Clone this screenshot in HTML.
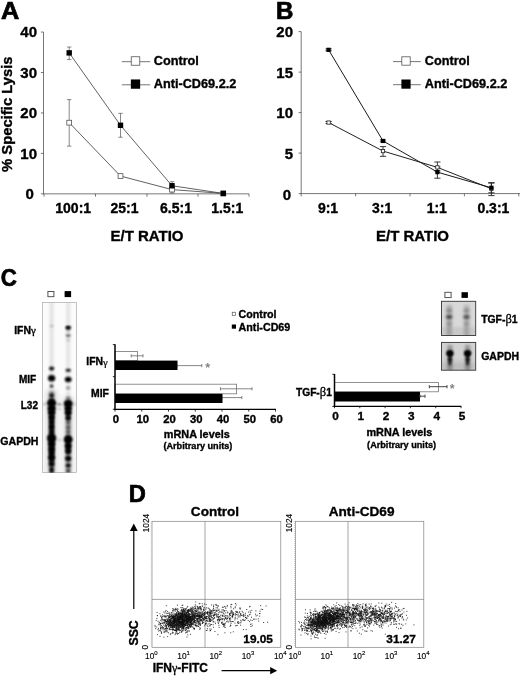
<!DOCTYPE html><html><head><meta charset="utf-8"><title>Figure</title>
<style>html,body{margin:0;padding:0;background:#fff}svg{display:block}text{font-family:"Liberation Sans", Arial, Helvetica, sans-serif;font-weight:bold;fill:#000;stroke:#000;stroke-width:0.35px}.r{font-weight:normal;stroke:none}.pl{stroke-width:0.7px}</style></head><body>
<svg width="520" height="677" viewBox="0 0 520 677">
<defs>
<filter id="b1" x="-50%" y="-50%" width="200%" height="200%"><feGaussianBlur stdDeviation="0.9"/></filter>
<filter id="b2" x="-50%" y="-50%" width="200%" height="200%"><feGaussianBlur stdDeviation="1.6"/></filter>
<filter id="b3" x="-50%" y="-50%" width="200%" height="200%"><feGaussianBlur stdDeviation="2.5"/></filter>
<clipPath id="cg"><rect x="42.5" y="302.5" width="34" height="170"/></clipPath>
<clipPath id="cb1"><rect x="441.5" y="301.3" width="34.2" height="34.2"/></clipPath>
<clipPath id="cb2"><rect x="441.5" y="342.4" width="34.2" height="27.8"/></clipPath>
</defs>
<rect width="520" height="677" fill="#fff"/>
<text class="pl" transform="translate(0.9,18.8) scale(1.09,1)" font-size="23.2">A</text>
<line x1="43.50" y1="32.05" x2="43.50" y2="194.15" stroke="#4a4a4a" stroke-width="0.75"/>
<line x1="43.50" y1="193.85" x2="249.00" y2="193.85" stroke="#4a4a4a" stroke-width="0.75"/>
<line x1="40.90" y1="193.85" x2="43.50" y2="193.85" stroke="#4a4a4a" stroke-width="0.75"/>
<text x="33.80" y="199.25" font-size="15" text-anchor="end" >0</text>
<line x1="40.90" y1="153.40" x2="43.50" y2="153.40" stroke="#4a4a4a" stroke-width="0.75"/>
<text x="37.00" y="158.80" font-size="15" text-anchor="end" >10</text>
<line x1="40.90" y1="112.95" x2="43.50" y2="112.95" stroke="#4a4a4a" stroke-width="0.75"/>
<text x="37.00" y="118.35" font-size="15" text-anchor="end" >20</text>
<line x1="40.90" y1="72.50" x2="43.50" y2="72.50" stroke="#4a4a4a" stroke-width="0.75"/>
<text x="37.00" y="77.90" font-size="15" text-anchor="end" >30</text>
<line x1="40.90" y1="32.05" x2="43.50" y2="32.05" stroke="#4a4a4a" stroke-width="0.75"/>
<text x="37.00" y="37.45" font-size="15" text-anchor="end" >40</text>
<line x1="44.00" y1="193.85" x2="44.00" y2="196.65" stroke="#4a4a4a" stroke-width="0.75"/>
<line x1="95.50" y1="193.85" x2="95.50" y2="196.65" stroke="#4a4a4a" stroke-width="0.75"/>
<line x1="147.00" y1="193.85" x2="147.00" y2="196.65" stroke="#4a4a4a" stroke-width="0.75"/>
<line x1="198.00" y1="193.85" x2="198.00" y2="196.65" stroke="#4a4a4a" stroke-width="0.75"/>
<line x1="249.00" y1="193.85" x2="249.00" y2="196.65" stroke="#4a4a4a" stroke-width="0.75"/>
<text x="73.20" y="213.00" font-size="14" text-anchor="middle" >100:1</text>
<text x="124.50" y="213.00" font-size="14" text-anchor="middle" >25:1</text>
<text x="176.00" y="213.00" font-size="14" text-anchor="middle" >6.5:1</text>
<text x="227.30" y="213.00" font-size="14" text-anchor="middle" >1.5:1</text>
<text x="147.00" y="240.80" font-size="15" text-anchor="middle" >E/T RATIO</text>
<text transform="translate(11.6,114.2) rotate(-90)" font-size="14.8" text-anchor="middle">% Specific Lysis</text>
<line x1="69.20" y1="122.66" x2="120.50" y2="176.05" stroke="#3a3a3a" stroke-width="0.8"/>
<line x1="69.20" y1="52.88" x2="120.50" y2="125.29" stroke="#3a3a3a" stroke-width="0.8"/>
<line x1="120.50" y1="176.05" x2="172.00" y2="189.60" stroke="#3a3a3a" stroke-width="0.8"/>
<line x1="120.50" y1="125.29" x2="172.00" y2="185.76" stroke="#3a3a3a" stroke-width="0.8"/>
<line x1="172.00" y1="189.60" x2="223.30" y2="193.45" stroke="#3a3a3a" stroke-width="0.8"/>
<line x1="172.00" y1="185.76" x2="223.30" y2="193.45" stroke="#3a3a3a" stroke-width="0.8"/>
<line x1="69.20" y1="99.60" x2="69.20" y2="146.12" stroke="#555" stroke-width="0.7"/>
<line x1="67.00" y1="99.60" x2="71.40" y2="99.60" stroke="#555" stroke-width="0.7"/>
<line x1="67.00" y1="146.12" x2="71.40" y2="146.12" stroke="#555" stroke-width="0.7"/>
<line x1="69.20" y1="47.02" x2="69.20" y2="59.56" stroke="#555" stroke-width="0.7"/>
<line x1="67.00" y1="47.02" x2="71.40" y2="47.02" stroke="#555" stroke-width="0.7"/>
<line x1="67.00" y1="59.56" x2="71.40" y2="59.56" stroke="#555" stroke-width="0.7"/>
<line x1="120.50" y1="113.35" x2="120.50" y2="137.22" stroke="#555" stroke-width="0.7"/>
<line x1="118.30" y1="113.35" x2="122.70" y2="113.35" stroke="#555" stroke-width="0.7"/>
<line x1="118.30" y1="137.22" x2="122.70" y2="137.22" stroke="#555" stroke-width="0.7"/>
<line x1="172.00" y1="185.76" x2="172.00" y2="193.04" stroke="#555" stroke-width="0.7"/>
<line x1="169.80" y1="185.76" x2="174.20" y2="185.76" stroke="#555" stroke-width="0.7"/>
<line x1="169.80" y1="193.04" x2="174.20" y2="193.04" stroke="#555" stroke-width="0.7"/>
<line x1="172.00" y1="181.72" x2="172.00" y2="189.00" stroke="#555" stroke-width="0.7"/>
<line x1="169.80" y1="181.72" x2="174.20" y2="181.72" stroke="#555" stroke-width="0.7"/>
<line x1="169.80" y1="189.00" x2="174.20" y2="189.00" stroke="#555" stroke-width="0.7"/>
<rect x="66.80" y="120.26" width="4.80" height="4.80" fill="#fff" stroke="#555" stroke-width="0.8"/>
<rect x="66.50" y="50.18" width="5.40" height="5.40" fill="#000"/>
<rect x="118.10" y="173.65" width="4.80" height="4.80" fill="#fff" stroke="#555" stroke-width="0.8"/>
<rect x="117.80" y="122.59" width="5.40" height="5.40" fill="#000"/>
<rect x="169.60" y="187.20" width="4.80" height="4.80" fill="#fff" stroke="#555" stroke-width="0.8"/>
<rect x="169.30" y="183.06" width="5.40" height="5.40" fill="#000"/>
<rect x="220.90" y="191.05" width="4.80" height="4.80" fill="#fff" stroke="#555" stroke-width="0.8"/>
<rect x="220.60" y="190.75" width="5.40" height="5.40" fill="#000"/>
<line x1="121.80" y1="61.70" x2="150.20" y2="61.70" stroke="#666" stroke-width="0.9"/>
<rect x="131.25" y="56.75" width="8.50" height="8.50" fill="#fff" stroke="#555" stroke-width="0.8"/>
<text x="153.80" y="64.50" font-size="12.7" text-anchor="start" >Control</text>
<line x1="121.80" y1="84.80" x2="150.20" y2="84.80" stroke="#666" stroke-width="0.9"/>
<rect x="130.85" y="79.45" width="9.30" height="9.30" fill="#000"/>
<text x="153.80" y="87.60" font-size="12.7" text-anchor="start" >Anti-CD69.2.2</text>
<text class="pl" transform="translate(276.0,18.8) scale(1.04,1)" font-size="23.2">B</text>
<line x1="301.20" y1="31.60" x2="301.20" y2="193.90" stroke="#4a4a4a" stroke-width="0.75"/>
<line x1="301.20" y1="193.60" x2="520.00" y2="193.60" stroke="#4a4a4a" stroke-width="0.75"/>
<line x1="298.60" y1="193.60" x2="301.20" y2="193.60" stroke="#4a4a4a" stroke-width="0.75"/>
<text x="291.20" y="200.20" font-size="15" text-anchor="end" >0</text>
<line x1="298.60" y1="153.10" x2="301.20" y2="153.10" stroke="#4a4a4a" stroke-width="0.75"/>
<text x="293.00" y="158.50" font-size="15" text-anchor="end" >5</text>
<line x1="298.60" y1="112.60" x2="301.20" y2="112.60" stroke="#4a4a4a" stroke-width="0.75"/>
<text x="293.00" y="118.00" font-size="15" text-anchor="end" >10</text>
<line x1="298.60" y1="72.10" x2="301.20" y2="72.10" stroke="#4a4a4a" stroke-width="0.75"/>
<text x="293.00" y="77.50" font-size="15" text-anchor="end" >15</text>
<line x1="298.60" y1="31.60" x2="301.20" y2="31.60" stroke="#4a4a4a" stroke-width="0.75"/>
<text x="293.00" y="37.00" font-size="15" text-anchor="end" >20</text>
<line x1="301.20" y1="193.60" x2="301.20" y2="196.40" stroke="#4a4a4a" stroke-width="0.75"/>
<line x1="355.60" y1="193.60" x2="355.60" y2="196.40" stroke="#4a4a4a" stroke-width="0.75"/>
<line x1="410.00" y1="193.60" x2="410.00" y2="196.40" stroke="#4a4a4a" stroke-width="0.75"/>
<line x1="464.40" y1="193.60" x2="464.40" y2="196.40" stroke="#4a4a4a" stroke-width="0.75"/>
<line x1="518.80" y1="193.60" x2="518.80" y2="196.40" stroke="#4a4a4a" stroke-width="0.75"/>
<text x="328.00" y="213.00" font-size="14" text-anchor="middle" >9:1</text>
<text x="382.20" y="213.00" font-size="14" text-anchor="middle" >3:1</text>
<text x="436.80" y="213.00" font-size="14" text-anchor="middle" >1:1</text>
<text x="493.40" y="213.00" font-size="14" text-anchor="middle" >0.3:1</text>
<text x="412.50" y="240.80" font-size="15" text-anchor="middle" >E/T RATIO</text>
<line x1="328.60" y1="122.56" x2="383.00" y2="151.07" stroke="#222" stroke-width="1.0"/>
<line x1="328.60" y1="49.82" x2="383.00" y2="140.95" stroke="#1a1a1a" stroke-width="1.0"/>
<line x1="383.00" y1="151.07" x2="437.40" y2="167.36" stroke="#222" stroke-width="1.0"/>
<line x1="383.00" y1="140.95" x2="437.40" y2="172.13" stroke="#1a1a1a" stroke-width="1.0"/>
<line x1="437.40" y1="167.36" x2="491.40" y2="188.74" stroke="#222" stroke-width="1.0"/>
<line x1="437.40" y1="172.13" x2="491.40" y2="187.77" stroke="#1a1a1a" stroke-width="1.0"/>
<line x1="328.60" y1="121.51" x2="328.60" y2="123.53" stroke="#222" stroke-width="0.9"/>
<line x1="325.50" y1="121.51" x2="331.70" y2="121.51" stroke="#222" stroke-width="0.9"/>
<line x1="325.50" y1="123.53" x2="331.70" y2="123.53" stroke="#222" stroke-width="0.9"/>
<line x1="328.60" y1="48.85" x2="328.60" y2="50.80" stroke="#222" stroke-width="0.9"/>
<line x1="325.50" y1="48.85" x2="331.70" y2="48.85" stroke="#222" stroke-width="0.9"/>
<line x1="325.50" y1="50.80" x2="331.70" y2="50.80" stroke="#222" stroke-width="0.9"/>
<line x1="383.00" y1="146.62" x2="383.00" y2="156.34" stroke="#222" stroke-width="0.9"/>
<line x1="379.90" y1="146.62" x2="386.10" y2="146.62" stroke="#222" stroke-width="0.9"/>
<line x1="379.90" y1="156.34" x2="386.10" y2="156.34" stroke="#222" stroke-width="0.9"/>
<line x1="383.00" y1="139.98" x2="383.00" y2="141.92" stroke="#222" stroke-width="0.9"/>
<line x1="379.90" y1="139.98" x2="386.10" y2="139.98" stroke="#222" stroke-width="0.9"/>
<line x1="379.90" y1="141.92" x2="386.10" y2="141.92" stroke="#222" stroke-width="0.9"/>
<line x1="437.40" y1="162.01" x2="437.40" y2="170.92" stroke="#222" stroke-width="0.9"/>
<line x1="434.30" y1="162.01" x2="440.50" y2="162.01" stroke="#222" stroke-width="0.9"/>
<line x1="434.30" y1="170.92" x2="440.50" y2="170.92" stroke="#222" stroke-width="0.9"/>
<line x1="437.40" y1="166.87" x2="437.40" y2="178.21" stroke="#222" stroke-width="0.9"/>
<line x1="434.30" y1="166.87" x2="440.50" y2="166.87" stroke="#222" stroke-width="0.9"/>
<line x1="434.30" y1="178.21" x2="440.50" y2="178.21" stroke="#222" stroke-width="0.9"/>
<line x1="491.40" y1="183.07" x2="491.40" y2="195.62" stroke="#222" stroke-width="0.9"/>
<line x1="488.30" y1="183.07" x2="494.50" y2="183.07" stroke="#222" stroke-width="0.9"/>
<line x1="488.30" y1="195.62" x2="494.50" y2="195.62" stroke="#222" stroke-width="0.9"/>
<line x1="491.40" y1="182.66" x2="491.40" y2="192.79" stroke="#222" stroke-width="0.9"/>
<line x1="488.30" y1="182.66" x2="494.50" y2="182.66" stroke="#222" stroke-width="0.9"/>
<line x1="488.30" y1="192.79" x2="494.50" y2="192.79" stroke="#222" stroke-width="0.9"/>
<rect x="326.95" y="120.91" width="3.3" height="3.3" fill="#fff" stroke="#222" stroke-width="0.8"/>
<rect x="326.50" y="47.72" width="4.20" height="4.20" fill="#000"/>
<rect x="381.35" y="149.42" width="3.3" height="3.3" fill="#fff" stroke="#222" stroke-width="0.8"/>
<rect x="380.90" y="138.85" width="4.20" height="4.20" fill="#000"/>
<rect x="435.75" y="165.71" width="3.3" height="3.3" fill="#fff" stroke="#222" stroke-width="0.8"/>
<rect x="435.30" y="170.03" width="4.20" height="4.20" fill="#000"/>
<rect x="489.75" y="187.09" width="3.3" height="3.3" fill="#fff" stroke="#222" stroke-width="0.8"/>
<rect x="489.30" y="185.67" width="4.20" height="4.20" fill="#000"/>
<line x1="393.00" y1="61.60" x2="420.80" y2="61.60" stroke="#666" stroke-width="0.9"/>
<rect x="401.80" y="56.80" width="8.40" height="8.40" fill="#fff" stroke="#555" stroke-width="0.8"/>
<text x="424.80" y="64.50" font-size="12.7" text-anchor="start" >Control</text>
<line x1="393.00" y1="84.70" x2="420.80" y2="84.70" stroke="#666" stroke-width="0.9"/>
<rect x="401.40" y="79.50" width="9.20" height="9.20" fill="#000"/>
<text x="424.80" y="87.60" font-size="12.7" text-anchor="start" >Anti-CD69.2.2</text>
<text class="pl" transform="translate(0.7,286) scale(0.95,1)" font-size="23.5">C</text>
<rect x="42.5" y="302.5" width="34" height="170" fill="#fbfbfb" stroke="#aaa" stroke-width="0.7"/>
<rect x="47.9" y="291.5" width="6.0" height="5.2" fill="#fff" stroke="#444" stroke-width="0.9"/>
<rect x="64.6" y="291.1" width="6.5" height="6.0" fill="#000"/>
<g clip-path="url(#cg)">
<rect x="49.8" y="302" width="3.6" height="171" fill="#000" opacity="0.11" filter="url(#b2)"/>
<rect x="66.4" y="302" width="3.6" height="171" fill="#000" opacity="0.10" filter="url(#b2)"/>
<rect x="49.4" y="392" width="4.5" height="82" fill="#000" opacity="0.55" filter="url(#b2)"/>
<rect x="66.0" y="398" width="4.5" height="76" fill="#000" opacity="0.42" filter="url(#b2)"/>
<rect x="49.3" y="399" width="4.6" height="64" fill="#000" opacity="0.85" filter="url(#b1)"/>
<rect x="66.2" y="401" width="4.0" height="19" fill="#000" opacity="0.8" filter="url(#b1)"/>
<rect x="66.2" y="436" width="4.0" height="18" fill="#000" opacity="0.85" filter="url(#b1)"/>
<rect x="45.6" y="390" width="12" height="84" fill="#000" opacity="0.10" filter="url(#b3)"/>
<rect x="62.2" y="396" width="12" height="78" fill="#000" opacity="0.08" filter="url(#b3)"/>
<ellipse cx="51.6" cy="326.0" rx="2.2" ry="1.3" fill="#000" opacity="0.18" filter="url(#b1)"/>
<ellipse cx="51.6" cy="368.5" rx="2.6" ry="2.0" fill="#000" opacity="0.95" filter="url(#b1)"/>
<ellipse cx="51.6" cy="378.3" rx="3.6" ry="3.2" fill="#000" opacity="1.00" filter="url(#b1)"/>
<ellipse cx="51.6" cy="386.0" rx="1.8" ry="1.5" fill="#000" opacity="0.90" filter="url(#b1)"/>
<ellipse cx="51.6" cy="395.5" rx="2.0" ry="2.0" fill="#000" opacity="0.85" filter="url(#b1)"/>
<ellipse cx="51.6" cy="403.0" rx="4.6" ry="3.6" fill="#000" opacity="1.00" filter="url(#b1)"/>
<ellipse cx="51.6" cy="408.5" rx="4.0" ry="3.0" fill="#000" opacity="1.00" filter="url(#b1)"/>
<ellipse cx="51.6" cy="412.5" rx="3.6" ry="2.6" fill="#000" opacity="1.00" filter="url(#b1)"/>
<ellipse cx="51.6" cy="417.5" rx="2.8" ry="2.4" fill="#000" opacity="1.00" filter="url(#b1)"/>
<ellipse cx="51.6" cy="422.0" rx="2.2" ry="2.2" fill="#000" opacity="0.90" filter="url(#b1)"/>
<ellipse cx="51.6" cy="427.0" rx="2.4" ry="2.4" fill="#000" opacity="1.00" filter="url(#b1)"/>
<ellipse cx="51.6" cy="432.0" rx="2.0" ry="2.0" fill="#000" opacity="0.80" filter="url(#b1)"/>
<ellipse cx="51.6" cy="438.3" rx="4.6" ry="4.2" fill="#000" opacity="1.00" filter="url(#b1)"/>
<ellipse cx="51.6" cy="444.0" rx="3.6" ry="3.0" fill="#000" opacity="1.00" filter="url(#b1)"/>
<ellipse cx="51.6" cy="449.0" rx="3.2" ry="3.0" fill="#000" opacity="1.00" filter="url(#b1)"/>
<ellipse cx="51.6" cy="453.0" rx="2.8" ry="2.4" fill="#000" opacity="0.90" filter="url(#b1)"/>
<ellipse cx="51.6" cy="457.5" rx="3.4" ry="2.8" fill="#000" opacity="1.00" filter="url(#b1)"/>
<ellipse cx="51.6" cy="464.0" rx="2.8" ry="2.6" fill="#000" opacity="1.00" filter="url(#b1)"/>
<ellipse cx="51.6" cy="469.5" rx="2.0" ry="2.2" fill="#000" opacity="1.00" filter="url(#b1)"/>
<ellipse cx="51.6" cy="473.0" rx="1.8" ry="2.0" fill="#000" opacity="0.90" filter="url(#b1)"/>
<ellipse cx="68.2" cy="327.4" rx="2.7" ry="1.5" fill="#000" opacity="1.00" filter="url(#b1)"/>
<ellipse cx="68.2" cy="327.8" rx="2.4" ry="1.3" fill="#000" opacity="1.00" filter="url(#b1)"/>
<ellipse cx="68.2" cy="330.6" rx="2.2" ry="1.0" fill="#000" opacity="0.35" filter="url(#b1)"/>
<ellipse cx="68.2" cy="335.6" rx="2.6" ry="1.4" fill="#000" opacity="0.60" filter="url(#b1)"/>
<ellipse cx="68.2" cy="340.2" rx="2.2" ry="1.0" fill="#000" opacity="0.20" filter="url(#b1)"/>
<ellipse cx="68.2" cy="370.3" rx="2.8" ry="1.5" fill="#000" opacity="0.95" filter="url(#b1)"/>
<ellipse cx="68.2" cy="379.5" rx="3.4" ry="2.8" fill="#000" opacity="1.00" filter="url(#b1)"/>
<ellipse cx="68.2" cy="388.0" rx="2.2" ry="1.4" fill="#000" opacity="0.40" filter="url(#b1)"/>
<ellipse cx="68.2" cy="397.8" rx="2.2" ry="1.5" fill="#000" opacity="0.35" filter="url(#b1)"/>
<ellipse cx="68.2" cy="403.7" rx="4.4" ry="3.4" fill="#000" opacity="1.00" filter="url(#b1)"/>
<ellipse cx="68.2" cy="408.5" rx="3.6" ry="2.8" fill="#000" opacity="1.00" filter="url(#b1)"/>
<ellipse cx="68.2" cy="412.6" rx="3.4" ry="2.6" fill="#000" opacity="1.00" filter="url(#b1)"/>
<ellipse cx="68.2" cy="418.0" rx="2.6" ry="1.8" fill="#000" opacity="0.95" filter="url(#b1)"/>
<ellipse cx="68.2" cy="422.0" rx="1.8" ry="1.6" fill="#000" opacity="0.50" filter="url(#b1)"/>
<ellipse cx="68.2" cy="427.4" rx="2.0" ry="1.6" fill="#000" opacity="0.40" filter="url(#b1)"/>
<ellipse cx="68.2" cy="432.0" rx="1.8" ry="1.8" fill="#000" opacity="0.40" filter="url(#b1)"/>
<ellipse cx="68.2" cy="439.5" rx="4.4" ry="4.0" fill="#000" opacity="1.00" filter="url(#b1)"/>
<ellipse cx="68.2" cy="446.0" rx="3.4" ry="3.0" fill="#000" opacity="1.00" filter="url(#b1)"/>
<ellipse cx="68.2" cy="451.0" rx="3.0" ry="2.4" fill="#000" opacity="0.95" filter="url(#b1)"/>
<ellipse cx="68.2" cy="458.4" rx="3.0" ry="2.6" fill="#000" opacity="1.00" filter="url(#b1)"/>
<ellipse cx="68.2" cy="465.5" rx="2.6" ry="1.8" fill="#000" opacity="1.00" filter="url(#b1)"/>
<ellipse cx="68.2" cy="470.8" rx="2.0" ry="1.6" fill="#000" opacity="0.60" filter="url(#b1)"/>
<ellipse cx="59.3" cy="404.3" rx="2.0" ry="1.2" fill="#000" opacity="0.45" filter="url(#b1)"/>
<ellipse cx="59.3" cy="409.0" rx="1.8" ry="1.0" fill="#000" opacity="0.20" filter="url(#b1)"/>
<ellipse cx="59.5" cy="440.0" rx="2.2" ry="1.2" fill="#000" opacity="0.15" filter="url(#b1)"/>
<ellipse cx="44.5" cy="404.0" rx="2.0" ry="1.5" fill="#000" opacity="0.20" filter="url(#b1)"/>
<ellipse cx="75.0" cy="404.0" rx="2.0" ry="1.5" fill="#000" opacity="0.15" filter="url(#b1)"/>
</g>
<text x="14.20" y="333.80" font-size="10.4" text-anchor="start" >IFN<tspan class="r" font-family="Liberation Serif, serif" font-size="11" dy="0.4" style="stroke:#000;stroke-width:0.35px">γ</tspan></text>
<text x="36.10" y="382.90" font-size="10" text-anchor="end" >MIF</text>
<text x="38.00" y="408.60" font-size="10" text-anchor="end" >L32</text>
<text x="38.50" y="445.00" font-size="10.6" text-anchor="end" >GAPDH</text>
<rect x="115.00" y="351.60" width="22.60" height="9.00" fill="#fff" stroke="#777" stroke-width="0.8"/>
<rect x="115.00" y="360.60" width="62.50" height="9.40" fill="#000"/>
<rect x="115.00" y="384.20" width="121.60" height="9.60" fill="#fff" stroke="#777" stroke-width="0.8"/>
<rect x="115.00" y="393.80" width="107.50" height="9.20" fill="#000"/>
<line x1="131.20" y1="355.80" x2="143.00" y2="355.80" stroke="#555" stroke-width="0.7"/>
<line x1="131.20" y1="354.20" x2="131.20" y2="357.40" stroke="#555" stroke-width="0.7"/>
<line x1="143.00" y1="354.20" x2="143.00" y2="357.40" stroke="#555" stroke-width="0.7"/>
<line x1="177.50" y1="365.60" x2="201.80" y2="365.60" stroke="#555" stroke-width="0.7"/>
<line x1="177.50" y1="364.00" x2="177.50" y2="367.20" stroke="#555" stroke-width="0.7"/>
<line x1="201.80" y1="364.00" x2="201.80" y2="367.20" stroke="#555" stroke-width="0.7"/>
<line x1="220.50" y1="388.80" x2="252.00" y2="388.80" stroke="#555" stroke-width="0.7"/>
<line x1="220.50" y1="387.20" x2="220.50" y2="390.40" stroke="#555" stroke-width="0.7"/>
<line x1="252.00" y1="387.20" x2="252.00" y2="390.40" stroke="#555" stroke-width="0.7"/>
<line x1="222.50" y1="397.60" x2="241.80" y2="397.60" stroke="#555" stroke-width="0.7"/>
<line x1="222.50" y1="396.00" x2="222.50" y2="399.20" stroke="#555" stroke-width="0.7"/>
<line x1="241.80" y1="396.00" x2="241.80" y2="399.20" stroke="#555" stroke-width="0.7"/>
<line x1="115.00" y1="344.30" x2="115.00" y2="409.90" stroke="#000" stroke-width="1.5"/>
<line x1="114.30" y1="409.30" x2="276.00" y2="409.30" stroke="#000" stroke-width="1.2"/>
<line x1="112.80" y1="344.60" x2="115.00" y2="344.60" stroke="#000" stroke-width="0.8"/>
<line x1="112.80" y1="376.60" x2="115.00" y2="376.60" stroke="#000" stroke-width="0.8"/>
<line x1="112.80" y1="409.30" x2="115.00" y2="409.30" stroke="#000" stroke-width="0.8"/>
<line x1="115.00" y1="409.30" x2="115.00" y2="411.60" stroke="#000" stroke-width="0.8"/>
<text x="116.00" y="423.40" font-size="11.3" text-anchor="middle" >0</text>
<line x1="141.75" y1="409.30" x2="141.75" y2="411.60" stroke="#000" stroke-width="0.8"/>
<text x="142.75" y="423.40" font-size="11.3" text-anchor="middle" >10</text>
<line x1="168.50" y1="409.30" x2="168.50" y2="411.60" stroke="#000" stroke-width="0.8"/>
<text x="169.50" y="423.40" font-size="11.3" text-anchor="middle" >20</text>
<line x1="195.25" y1="409.30" x2="195.25" y2="411.60" stroke="#000" stroke-width="0.8"/>
<text x="196.25" y="423.40" font-size="11.3" text-anchor="middle" >30</text>
<line x1="222.00" y1="409.30" x2="222.00" y2="411.60" stroke="#000" stroke-width="0.8"/>
<text x="223.00" y="423.40" font-size="11.3" text-anchor="middle" >40</text>
<line x1="248.75" y1="409.30" x2="248.75" y2="411.60" stroke="#000" stroke-width="0.8"/>
<text x="249.75" y="423.40" font-size="11.3" text-anchor="middle" >50</text>
<line x1="275.50" y1="409.30" x2="275.50" y2="411.60" stroke="#000" stroke-width="0.8"/>
<text x="276.50" y="423.40" font-size="11.3" text-anchor="middle" >60</text>
<text x="207.80" y="371.80" font-size="12.5" text-anchor="middle" style="fill:#858585;stroke:none">*</text>
<text x="196.80" y="437.50" font-size="10.85" text-anchor="middle" >mRNA levels</text>
<text x="197.90" y="449.20" font-size="9.15" text-anchor="middle" >(Arbitrary units)</text>
<text x="86.30" y="364.90" font-size="10.4" text-anchor="start" >IFN<tspan class="r" font-family="Liberation Serif, serif" font-size="10.8" dy="0.7" style="stroke:#000;stroke-width:0.2px">γ</tspan></text>
<text x="108.90" y="396.60" font-size="10.4" text-anchor="end" >MIF</text>
<rect x="232.25" y="312.25" width="3.30" height="3.30" fill="#fff" stroke="#555" stroke-width="0.7"/>
<rect x="231.80" y="324.50" width="4.20" height="4.20" fill="#000"/>
<text x="238.60" y="318.20" font-size="10.7" text-anchor="start" >Control</text>
<text x="238.60" y="330.70" font-size="10.7" text-anchor="start" >Anti-CD69</text>
<rect x="334.50" y="382.40" width="103.90" height="9.40" fill="#fff" stroke="#777" stroke-width="0.8"/>
<rect x="334.50" y="391.80" width="85.50" height="9.70" fill="#000"/>
<line x1="429.30" y1="386.70" x2="447.00" y2="386.70" stroke="#444" stroke-width="1.0"/>
<line x1="429.30" y1="385.10" x2="429.30" y2="388.30" stroke="#444" stroke-width="1.0"/>
<line x1="447.00" y1="385.10" x2="447.00" y2="388.30" stroke="#444" stroke-width="1.0"/>
<line x1="420.00" y1="396.20" x2="425.00" y2="396.20" stroke="#444" stroke-width="1.0"/>
<line x1="420.00" y1="394.60" x2="420.00" y2="397.80" stroke="#444" stroke-width="1.0"/>
<line x1="425.00" y1="394.60" x2="425.00" y2="397.80" stroke="#444" stroke-width="1.0"/>
<line x1="334.50" y1="374.00" x2="334.50" y2="407.00" stroke="#000" stroke-width="1.5"/>
<line x1="333.80" y1="406.40" x2="461.30" y2="406.40" stroke="#000" stroke-width="1.2"/>
<line x1="332.30" y1="374.30" x2="334.50" y2="374.30" stroke="#000" stroke-width="0.8"/>
<line x1="332.30" y1="406.40" x2="334.50" y2="406.40" stroke="#000" stroke-width="0.8"/>
<line x1="334.50" y1="406.40" x2="334.50" y2="408.20" stroke="#000" stroke-width="0.8"/>
<text x="335.50" y="420.40" font-size="11.8" text-anchor="middle" >0</text>
<line x1="359.80" y1="406.40" x2="359.80" y2="408.20" stroke="#000" stroke-width="0.8"/>
<text x="360.80" y="420.40" font-size="11.8" text-anchor="middle" >1</text>
<line x1="385.10" y1="406.40" x2="385.10" y2="408.20" stroke="#000" stroke-width="0.8"/>
<text x="386.10" y="420.40" font-size="11.8" text-anchor="middle" >2</text>
<line x1="410.40" y1="406.40" x2="410.40" y2="408.20" stroke="#000" stroke-width="0.8"/>
<text x="411.40" y="420.40" font-size="11.8" text-anchor="middle" >3</text>
<line x1="435.70" y1="406.40" x2="435.70" y2="408.20" stroke="#000" stroke-width="0.8"/>
<text x="436.70" y="420.40" font-size="11.8" text-anchor="middle" >4</text>
<line x1="461.00" y1="406.40" x2="461.00" y2="408.20" stroke="#000" stroke-width="0.8"/>
<text x="462.00" y="420.40" font-size="11.8" text-anchor="middle" >5</text>
<text x="452.20" y="392.80" font-size="12.5" text-anchor="middle" style="fill:#858585;stroke:none">*</text>
<text x="399.40" y="436.30" font-size="10.85" text-anchor="middle" >mRNA levels</text>
<text x="401.60" y="447.50" font-size="9.15" text-anchor="middle" >(Arbitrary units)</text>
<text x="331.80" y="395.60" font-size="10.2" text-anchor="end" >TGF-<tspan class="r" font-family="Liberation Serif, serif" font-size="12.5" style="stroke:#000;stroke-width:0.3px">β</tspan>1</text>
<rect x="444.9" y="292.3" width="6.2" height="5.3" fill="#fff" stroke="#444" stroke-width="0.9"/>
<rect x="461.5" y="292.2" width="6.4" height="5.7" fill="#000"/>
<rect x="441.5" y="301.3" width="34.2" height="34.2" fill="#d8d8d8"/>
<rect x="441.5" y="342.4" width="34.2" height="27.8" fill="#d2d2d2"/>
<g clip-path="url(#cb1)">
<rect x="446.5" y="305" width="5.4" height="31" fill="#000" opacity="0.20" filter="url(#b2)"/>
<ellipse cx="449.2" cy="310.6" rx="3.2" ry="1.7" fill="#000" opacity="0.30" filter="url(#b2)"/>
<ellipse cx="449.2" cy="316.9" rx="3.3" ry="1.8" fill="#000" opacity="0.55" filter="url(#b2)"/>
<ellipse cx="449.2" cy="317.0" rx="2.6" ry="1.2" fill="#000" opacity="0.30" filter="url(#b1)"/>
<ellipse cx="449.2" cy="323.8" rx="3.0" ry="1.8" fill="#000" opacity="0.22" filter="url(#b2)"/>
<rect x="463.9" y="305" width="5.4" height="31" fill="#000" opacity="0.18" filter="url(#b2)"/>
<ellipse cx="466.6" cy="310.6" rx="3.2" ry="1.7" fill="#000" opacity="0.27" filter="url(#b2)"/>
<ellipse cx="466.6" cy="316.9" rx="3.3" ry="1.8" fill="#000" opacity="0.50" filter="url(#b2)"/>
<ellipse cx="466.6" cy="317.0" rx="2.6" ry="1.2" fill="#000" opacity="0.27" filter="url(#b1)"/>
<ellipse cx="466.6" cy="323.8" rx="3.0" ry="1.8" fill="#000" opacity="0.20" filter="url(#b2)"/>
<rect x="441" y="327" width="35" height="9" fill="#000" opacity="0.07" filter="url(#b2)"/>
</g><g clip-path="url(#cb2)">
<rect x="441" y="362" width="35" height="9" fill="#000" opacity="0.10" filter="url(#b3)"/>
<rect x="447.4" y="345" width="5" height="26" fill="#000" opacity="0.30" filter="url(#b2)"/>
<rect x="448.5" y="354" width="2.8" height="11" fill="#000" opacity="0.85" filter="url(#b1)"/>
<ellipse cx="449.9" cy="353.3" rx="3.5" ry="3.1" fill="#000" opacity="1.00" filter="url(#b1)"/>
<ellipse cx="449.9" cy="353.3" rx="2.6" ry="2.4" fill="#000" opacity="1.00" filter="url(#b1)"/>
<ellipse cx="449.9" cy="359.4" rx="2.2" ry="1.6" fill="#000" opacity="0.70" filter="url(#b1)"/>
<rect x="465.1" y="345" width="5" height="26" fill="#000" opacity="0.30" filter="url(#b2)"/>
<rect x="466.2" y="354" width="2.8" height="11" fill="#000" opacity="0.85" filter="url(#b1)"/>
<ellipse cx="467.6" cy="353.3" rx="3.5" ry="3.1" fill="#000" opacity="1.00" filter="url(#b1)"/>
<ellipse cx="467.6" cy="353.3" rx="2.6" ry="2.4" fill="#000" opacity="1.00" filter="url(#b1)"/>
<ellipse cx="467.6" cy="359.4" rx="2.2" ry="1.6" fill="#000" opacity="0.70" filter="url(#b1)"/>
</g>
<rect x="441.5" y="301.3" width="34.2" height="34.2" fill="none" stroke="#333" stroke-width="0.9"/>
<rect x="441.5" y="342.4" width="34.2" height="27.8" fill="none" stroke="#333" stroke-width="0.9"/>
<text x="481.20" y="323.00" font-size="10.4" text-anchor="start" >TGF-<tspan class="r" font-family="Liberation Serif, serif" font-size="12.5" style="stroke:#000;stroke-width:0.3px">β</tspan>1</text>
<text x="481.20" y="360.20" font-size="10.5" text-anchor="start" >GAPDH</text>
<text class="pl" transform="translate(128.8,502) scale(1.03,1)" font-size="23">D</text>
<rect x="152.0" y="521.3" width="128.8" height="126.0" fill="#fff" stroke="#808080" stroke-width="0.7"/>
<line x1="205.00" y1="521.30" x2="205.00" y2="647.30" stroke="#808080" stroke-width="0.7"/>
<line x1="152.00" y1="599.40" x2="280.80" y2="599.40" stroke="#808080" stroke-width="0.7"/>
<line x1="151.2" y1="521.3" x2="151.2" y2="647.3" stroke="#c4c4c4" stroke-width="1.1" stroke-dasharray="0.6,1.4"/>
<text x="215.00" y="516.20" font-size="13.6" text-anchor="middle" >Control</text>
<text x="272.90" y="642.60" font-size="11.8" text-anchor="end" >19.05</text>
<path d="M169.8 625.5h.01M170.3 624.7h.01M185.1 625.5h.01M181.9 618.3h.01M194.6 622.5h.01M205.5 618.6h.01M173.7 616.6h.01M191.8 618.7h.01M183.3 623.8h.01M171.3 624.4h.01M168.0 623.0h.01M175.6 617.2h.01M210.5 613.3h.01M178.7 616.9h.01M180.0 622.9h.01M166.7 630.2h.01M197.6 614.1h.01M185.7 630.6h.01M189.8 618.0h.01M170.1 616.9h.01M187.7 621.5h.01M181.0 618.1h.01M183.3 621.3h.01M185.9 625.5h.01M186.1 627.4h.01M178.0 619.4h.01M182.5 624.4h.01M183.3 616.0h.01M183.0 625.3h.01M178.2 619.6h.01M182.4 624.3h.01M177.2 625.5h.01M190.8 622.0h.01M173.8 619.5h.01M190.8 616.8h.01M184.6 617.4h.01M194.7 612.2h.01M186.3 627.4h.01M188.1 631.0h.01M173.3 619.3h.01M203.2 618.5h.01M178.8 617.4h.01M174.6 619.8h.01M180.2 619.0h.01M164.4 621.1h.01M177.0 633.1h.01M187.9 619.5h.01M186.0 620.7h.01M176.5 620.6h.01M200.4 606.8h.01M176.5 615.4h.01M182.5 620.6h.01M173.8 609.8h.01M174.0 618.0h.01M166.7 621.8h.01M179.7 613.0h.01M188.0 616.6h.01M195.6 611.0h.01M185.3 609.7h.01M174.6 618.7h.01M177.9 620.2h.01M199.3 615.8h.01M169.6 629.0h.01M164.8 628.3h.01M180.8 619.5h.01M174.3 622.8h.01M168.4 624.0h.01M180.8 621.6h.01M178.2 618.3h.01M191.8 613.9h.01M187.0 616.4h.01M183.8 625.3h.01M196.7 611.4h.01M174.0 620.2h.01M163.7 625.2h.01M175.5 609.7h.01M185.6 624.6h.01M182.9 625.5h.01M173.0 622.9h.01M190.6 617.8h.01M198.7 618.5h.01M177.8 615.0h.01M181.3 619.7h.01M178.9 621.6h.01M181.2 623.6h.01M174.1 618.3h.01M171.6 615.2h.01M178.4 618.2h.01M181.4 621.3h.01M179.5 617.9h.01M172.9 629.4h.01M169.4 617.8h.01M185.9 608.6h.01M193.9 614.2h.01M168.7 625.9h.01M172.5 627.6h.01M187.1 607.3h.01M177.3 618.8h.01M186.2 612.7h.01M185.2 630.6h.01M191.9 617.2h.01M172.3 633.2h.01M178.6 623.1h.01M166.2 621.6h.01M196.9 618.5h.01M182.5 617.3h.01M182.0 617.7h.01M166.4 623.4h.01M172.7 611.1h.01M184.4 619.2h.01M173.5 621.9h.01M173.8 617.7h.01M173.6 620.9h.01M191.7 608.9h.01M194.8 606.4h.01M175.4 620.6h.01M168.5 623.7h.01M191.4 617.0h.01M184.5 613.6h.01M179.6 619.3h.01M161.5 632.2h.01M179.6 626.9h.01M165.7 628.4h.01M173.0 623.4h.01M165.7 616.5h.01M181.2 619.6h.01M182.8 628.2h.01M173.1 628.4h.01M180.2 618.3h.01M180.8 624.3h.01M172.7 624.7h.01M175.6 621.5h.01M172.1 617.5h.01M188.2 613.2h.01M182.4 628.9h.01M187.2 616.6h.01M186.4 617.7h.01M184.5 618.1h.01M179.8 617.1h.01M185.4 614.9h.01M187.2 623.0h.01M186.8 619.7h.01M200.9 608.7h.01M165.6 624.2h.01M178.5 618.3h.01M182.8 621.2h.01M169.2 623.0h.01M183.2 623.4h.01M201.3 615.1h.01M201.3 620.6h.01M181.5 616.0h.01M171.3 622.6h.01M194.7 618.1h.01M184.9 625.0h.01M175.9 623.9h.01M179.2 621.1h.01M185.3 612.0h.01M174.5 618.5h.01M155.2 626.7h.01M179.8 632.5h.01M183.7 610.7h.01M195.5 610.7h.01M182.5 611.6h.01M180.2 619.0h.01M179.5 621.3h.01M172.7 617.2h.01M193.3 615.1h.01M174.5 616.6h.01M172.0 616.6h.01M182.7 620.2h.01M180.3 616.9h.01M186.4 620.5h.01M186.4 621.7h.01M170.6 621.4h.01M170.2 616.2h.01M168.4 618.8h.01M185.6 618.3h.01M185.9 624.9h.01M201.0 620.4h.01M168.8 622.6h.01M177.9 628.9h.01M177.8 629.6h.01M187.5 619.5h.01M189.2 626.0h.01M192.8 612.7h.01M202.4 614.6h.01M188.7 615.8h.01M187.4 618.5h.01M194.1 614.3h.01M197.2 615.5h.01M190.2 623.3h.01M181.6 622.2h.01M187.7 623.1h.01M174.1 623.6h.01M167.1 628.5h.01M203.0 615.2h.01M181.1 623.3h.01M183.5 613.0h.01M179.0 629.1h.01M170.1 619.4h.01M183.3 623.8h.01M196.8 611.5h.01M187.4 620.7h.01M177.8 619.8h.01M184.2 620.9h.01M168.7 621.5h.01M174.7 622.8h.01M180.2 611.0h.01M192.8 624.3h.01M181.5 617.0h.01M180.0 630.5h.01M165.4 611.7h.01M166.6 621.7h.01M173.0 624.9h.01M183.4 618.7h.01M171.3 620.8h.01M176.1 630.5h.01M183.8 627.5h.01M176.0 629.9h.01M179.8 623.9h.01M179.5 616.2h.01M177.8 615.0h.01M199.3 612.0h.01M183.3 616.0h.01M163.8 632.1h.01M180.9 625.7h.01M174.9 626.2h.01M184.7 626.1h.01M164.2 622.4h.01M187.6 627.0h.01M180.4 622.0h.01M169.6 621.7h.01M171.3 615.5h.01M165.6 621.9h.01M193.6 621.8h.01M191.8 621.9h.01M180.5 613.4h.01M183.6 628.8h.01M181.6 615.4h.01M194.0 616.0h.01M166.8 622.3h.01M188.8 616.1h.01M172.0 614.1h.01M190.3 609.1h.01M173.8 617.6h.01M183.8 614.9h.01M189.8 625.4h.01M176.9 624.0h.01M174.1 624.4h.01M188.0 620.7h.01M171.5 615.9h.01M190.0 620.7h.01M182.9 619.5h.01M183.3 623.5h.01M178.3 614.6h.01M183.7 624.0h.01M181.2 616.2h.01M185.0 614.3h.01M196.0 609.6h.01M159.2 622.3h.01M181.3 622.3h.01M183.6 615.2h.01M173.6 622.1h.01M177.2 618.5h.01M172.3 623.7h.01M178.0 614.6h.01M185.2 623.6h.01M188.2 614.4h.01M187.9 618.9h.01M189.8 625.8h.01M188.4 609.9h.01M187.0 621.3h.01M189.2 622.1h.01M192.3 616.1h.01M175.6 630.7h.01M184.2 618.8h.01M183.7 626.4h.01M190.1 626.7h.01M179.5 623.0h.01M166.8 625.9h.01M179.2 618.9h.01M158.0 629.6h.01M180.0 620.3h.01M179.2 617.5h.01M179.5 621.3h.01M182.7 617.0h.01M178.6 626.2h.01M178.4 625.9h.01M177.3 618.2h.01M179.9 616.4h.01M167.5 620.9h.01M182.6 618.3h.01M192.0 622.4h.01M184.7 624.6h.01M177.5 620.4h.01M183.4 622.4h.01M199.0 621.5h.01M167.8 623.4h.01M184.6 615.2h.01M179.4 621.6h.01M172.9 608.7h.01M174.2 616.4h.01M176.8 625.9h.01M187.7 622.3h.01M184.8 610.4h.01M189.2 626.2h.01M172.8 621.3h.01M189.7 625.0h.01M166.6 623.4h.01M187.9 630.9h.01M182.0 622.6h.01M168.5 620.1h.01M188.5 616.8h.01M198.1 626.4h.01M190.1 614.8h.01M174.2 620.9h.01M197.4 616.3h.01M192.8 624.6h.01M186.1 617.2h.01M183.6 617.2h.01M182.8 620.9h.01M202.0 614.6h.01M176.0 629.2h.01M171.9 627.7h.01M186.8 619.7h.01M186.3 623.5h.01M185.8 625.2h.01M173.4 620.7h.01M193.8 619.4h.01M192.6 616.1h.01M170.1 627.3h.01M181.6 611.9h.01M198.0 616.3h.01M172.7 625.8h.01M189.9 615.0h.01M163.0 629.8h.01M194.4 620.3h.01M179.4 614.2h.01M176.7 628.4h.01M187.8 623.1h.01M178.5 622.4h.01M174.2 621.8h.01M175.6 624.4h.01M200.7 608.8h.01M187.1 615.2h.01M183.4 628.6h.01M184.2 618.6h.01M188.8 623.4h.01M187.5 619.2h.01M179.3 622.8h.01M184.4 615.1h.01M178.4 620.6h.01M187.0 616.6h.01M203.5 609.5h.01M182.8 624.5h.01M185.5 617.6h.01M174.6 627.0h.01M202.3 603.8h.01M176.8 619.3h.01M184.9 620.6h.01M173.3 632.9h.01M179.7 618.3h.01M189.8 616.4h.01M182.1 624.9h.01M182.7 623.4h.01M172.7 614.9h.01M171.0 614.0h.01M181.8 624.9h.01M177.2 618.1h.01M202.5 623.5h.01M169.9 622.3h.01M174.8 619.8h.01M182.1 618.4h.01M181.0 616.8h.01M175.3 621.2h.01M183.1 620.1h.01M180.8 615.7h.01M175.1 622.2h.01M175.6 618.2h.01M183.0 614.1h.01M188.5 612.4h.01M186.1 618.5h.01M187.1 625.4h.01M166.4 627.6h.01M182.5 616.7h.01M182.9 627.0h.01M192.6 619.5h.01M164.4 620.2h.01M181.8 621.4h.01M171.9 625.2h.01M181.8 618.6h.01M170.6 620.6h.01M181.2 623.6h.01M188.3 620.1h.01M173.8 621.9h.01M195.0 622.4h.01M180.6 623.9h.01M188.5 610.9h.01M173.5 625.2h.01M183.4 619.9h.01M182.7 605.2h.01M166.5 626.7h.01M181.9 631.4h.01M174.9 625.0h.01M182.9 620.9h.01M182.0 612.1h.01M180.6 627.4h.01M160.5 628.6h.01M167.6 636.6h.01M189.7 619.9h.01M188.5 620.6h.01M188.7 613.6h.01M172.1 624.1h.01M169.3 629.8h.01M177.5 624.3h.01M183.9 623.0h.01M173.2 623.6h.01M194.4 617.2h.01M183.3 625.1h.01M177.7 616.9h.01M186.5 619.8h.01M164.8 632.0h.01M179.8 625.9h.01M188.6 617.0h.01M177.5 610.4h.01M176.9 626.4h.01M186.7 616.3h.01M177.8 621.3h.01M181.0 622.3h.01M178.9 620.5h.01M170.8 626.2h.01M178.9 617.4h.01M178.2 618.9h.01M178.1 629.5h.01M167.2 631.0h.01M178.6 625.9h.01M182.7 620.6h.01M165.8 620.7h.01M176.8 629.2h.01M183.7 627.9h.01M198.2 613.6h.01M178.2 619.8h.01M178.3 622.5h.01M175.8 627.4h.01M185.8 624.0h.01M187.5 625.8h.01M187.7 621.7h.01M187.7 624.7h.01M167.6 621.4h.01M174.2 625.5h.01M178.3 622.4h.01M172.1 619.9h.01M180.8 621.9h.01M189.8 614.4h.01M178.0 618.6h.01M164.0 616.3h.01M161.7 619.7h.01M172.1 617.7h.01M174.6 624.4h.01M187.2 615.7h.01M185.5 620.3h.01M177.7 626.1h.01M184.3 622.7h.01M178.0 618.0h.01M172.1 621.5h.01M167.8 624.3h.01M172.6 618.1h.01M188.8 617.9h.01M186.7 616.4h.01M176.2 614.5h.01M183.2 617.5h.01M169.2 624.0h.01M177.5 630.0h.01M181.4 624.6h.01M185.5 625.3h.01M183.9 620.8h.01M179.6 618.7h.01M182.2 614.6h.01M192.9 610.0h.01M180.5 627.1h.01M169.7 628.7h.01M179.1 616.7h.01M181.8 610.6h.01M172.2 620.7h.01M168.6 616.9h.01M187.0 622.9h.01M181.5 623.9h.01M162.4 619.0h.01M190.0 624.5h.01M174.7 618.5h.01M183.6 620.0h.01M182.7 621.4h.01M177.4 605.2h.01M179.8 622.1h.01M172.1 623.4h.01M186.2 610.1h.01M171.1 627.7h.01M189.7 618.0h.01M165.3 621.9h.01M182.7 622.5h.01M180.7 626.8h.01M180.0 621.9h.01M188.6 624.6h.01M182.3 626.4h.01M180.6 622.5h.01M186.8 616.5h.01M185.1 625.2h.01M186.2 629.5h.01M166.8 629.1h.01M191.4 620.5h.01M175.6 619.1h.01M199.9 603.6h.01M188.1 611.8h.01M186.2 620.0h.01M188.4 621.2h.01M176.8 627.6h.01M186.4 632.2h.01M164.6 623.1h.01M180.0 615.8h.01M188.0 611.2h.01M198.6 624.0h.01M178.9 617.5h.01M192.5 618.9h.01M174.2 625.6h.01M184.0 615.4h.01M176.4 625.2h.01M179.1 623.3h.01M180.5 617.3h.01M167.8 621.7h.01M184.7 621.6h.01M179.7 621.4h.01M174.3 625.0h.01M186.6 618.3h.01M174.3 630.2h.01M190.3 618.0h.01M182.5 625.6h.01M184.0 623.8h.01M188.3 617.5h.01M163.9 637.2h.01M175.0 618.4h.01M183.7 627.1h.01M188.6 613.1h.01M176.8 620.7h.01M177.2 616.4h.01M173.0 625.2h.01M171.3 619.1h.01M193.2 619.2h.01M170.7 619.4h.01M186.6 624.1h.01M180.2 616.5h.01M189.9 618.2h.01M199.9 627.4h.01M182.5 630.3h.01M196.4 613.2h.01M197.5 620.9h.01M180.7 630.3h.01M163.2 622.7h.01M178.4 628.7h.01M165.9 621.3h.01M181.6 629.9h.01M182.3 613.9h.01M182.3 617.6h.01M182.8 621.2h.01M192.1 610.6h.01M184.5 624.6h.01M166.4 616.8h.01M186.9 619.0h.01M191.2 612.4h.01M176.1 617.1h.01M176.6 625.6h.01M178.6 628.3h.01M182.8 622.8h.01M176.2 622.5h.01M192.3 615.4h.01M190.5 634.3h.01M180.1 616.1h.01M176.6 623.4h.01M166.0 628.8h.01M170.5 625.0h.01M172.8 629.4h.01M174.3 620.3h.01M176.8 631.7h.01M160.7 629.1h.01M180.3 613.9h.01M189.4 620.8h.01M160.0 630.6h.01M176.2 614.6h.01M176.7 623.3h.01M180.7 626.3h.01M188.3 609.8h.01M176.9 621.1h.01M188.1 621.6h.01M178.5 613.7h.01M198.4 608.9h.01M174.0 618.1h.01M173.1 623.7h.01M162.0 616.9h.01M189.8 618.4h.01M172.6 616.3h.01M190.0 620.9h.01M177.3 618.6h.01M183.0 625.1h.01M169.1 628.9h.01M187.3 625.7h.01M180.5 616.9h.01M178.9 612.3h.01M179.2 621.4h.01M198.8 612.6h.01M174.2 627.6h.01M193.0 623.7h.01M176.2 621.8h.01M183.5 621.8h.01M176.5 630.5h.01M178.2 622.3h.01M169.8 625.5h.01M183.3 618.2h.01M194.2 628.9h.01M170.5 627.3h.01M189.9 617.4h.01M190.3 626.4h.01M179.6 618.1h.01M185.1 620.2h.01M193.4 616.1h.01M189.7 620.2h.01M180.5 623.4h.01M175.8 627.3h.01M197.3 608.6h.01M161.3 625.5h.01M176.3 630.0h.01M174.4 626.4h.01M174.8 626.6h.01M197.1 619.8h.01M169.6 622.4h.01M181.5 623.0h.01M176.7 627.3h.01M180.8 614.8h.01M161.3 633.1h.01M161.7 618.1h.01M173.8 619.6h.01M171.5 618.7h.01M170.0 623.5h.01M184.6 620.6h.01M178.8 630.5h.01M186.6 615.3h.01M179.2 619.2h.01M184.7 615.8h.01M187.5 610.9h.01M195.1 620.4h.01M172.7 618.1h.01M179.6 620.3h.01M181.0 613.9h.01M180.0 615.6h.01M200.8 614.7h.01M182.7 614.8h.01M173.7 626.5h.01M186.6 622.5h.01M184.8 620.9h.01M175.1 616.5h.01M186.5 622.4h.01M161.9 621.1h.01M171.2 626.4h.01M193.9 625.0h.01M190.2 619.6h.01M171.3 612.5h.01M177.5 616.8h.01M192.5 623.2h.01M175.6 620.3h.01M185.1 623.9h.01M171.9 622.3h.01M185.4 615.6h.01M155.7 628.7h.01M178.7 617.7h.01M179.4 614.4h.01M196.3 620.8h.01M178.8 615.9h.01M158.0 621.2h.01M170.8 624.9h.01M180.9 618.4h.01M182.2 619.3h.01M170.4 620.6h.01M193.6 628.1h.01M182.2 618.2h.01M182.0 623.9h.01M177.3 620.0h.01M164.0 619.4h.01M177.6 617.0h.01M179.3 616.9h.01M179.8 617.0h.01M191.9 618.9h.01M179.0 625.1h.01M173.7 622.9h.01M178.9 627.4h.01M190.3 627.2h.01M172.1 618.8h.01M167.9 622.3h.01M181.9 616.5h.01M188.7 617.0h.01M181.8 626.2h.01M178.0 609.1h.01M173.2 620.7h.01M184.9 619.0h.01M178.9 619.6h.01M190.1 622.5h.01M188.5 618.6h.01M193.2 620.7h.01M192.3 619.2h.01M173.8 613.1h.01M177.2 621.4h.01M185.2 625.6h.01M174.8 622.3h.01M171.8 626.0h.01M169.3 624.1h.01M176.3 620.8h.01M173.6 629.5h.01M202.6 613.6h.01M194.1 608.1h.01M168.8 624.2h.01M171.4 618.4h.01M190.1 621.8h.01M185.1 620.3h.01M182.7 620.0h.01M187.4 612.2h.01M167.5 619.8h.01M184.2 620.0h.01M197.6 615.2h.01M176.5 626.0h.01M181.7 616.6h.01M172.8 622.0h.01M174.5 623.4h.01M183.1 622.9h.01M165.2 625.8h.01M181.8 628.1h.01M174.0 621.9h.01M183.4 623.6h.01M173.9 629.8h.01M183.6 613.8h.01M181.4 616.8h.01M157.4 634.6h.01M168.5 632.8h.01M177.1 623.5h.01M182.4 615.8h.01M175.4 625.1h.01M180.3 615.0h.01M191.3 618.8h.01M199.1 620.9h.01M185.9 629.8h.01M188.3 617.0h.01M189.8 625.0h.01M182.5 623.0h.01M191.5 612.5h.01M172.5 624.3h.01M177.7 633.7h.01M184.1 624.4h.01M178.8 624.4h.01M169.7 622.4h.01M181.6 614.3h.01M186.4 621.2h.01M175.2 630.3h.01M175.5 622.0h.01M174.0 620.7h.01M190.6 617.4h.01M186.5 614.6h.01M204.1 610.2h.01M181.5 615.4h.01M183.7 622.8h.01M181.2 621.7h.01M184.0 614.2h.01M175.2 622.9h.01M179.9 622.4h.01M174.5 619.0h.01M175.2 619.0h.01M189.6 614.1h.01M171.1 621.7h.01M186.4 617.5h.01M192.0 609.5h.01M179.5 624.2h.01M181.9 627.4h.01M187.8 617.7h.01M177.6 617.1h.01M160.4 626.0h.01M180.4 621.1h.01M179.4 627.9h.01M177.0 622.3h.01M168.0 624.8h.01M179.0 626.8h.01M182.8 616.7h.01M182.8 616.5h.01M171.3 623.0h.01M190.6 616.4h.01M176.4 631.5h.01M177.5 624.5h.01M189.0 610.7h.01M192.7 614.0h.01M176.9 612.6h.01M188.2 627.5h.01M181.6 632.3h.01M172.6 622.5h.01M165.6 617.2h.01M178.8 619.8h.01M200.5 625.3h.01M178.7 624.4h.01M182.1 605.4h.01M191.0 624.2h.01M191.2 611.7h.01M189.0 614.0h.01M174.1 617.8h.01M179.6 622.0h.01M182.6 616.8h.01M183.0 612.4h.01M177.9 625.3h.01M172.6 616.5h.01M170.8 633.6h.01M175.2 634.6h.01M195.9 615.0h.01M178.8 627.5h.01M198.3 618.8h.01M166.1 625.8h.01M184.5 626.4h.01M179.2 622.9h.01M174.0 627.5h.01M174.8 618.1h.01M181.7 626.4h.01M187.7 623.0h.01M181.7 614.0h.01M198.8 612.2h.01M175.1 621.6h.01M185.6 620.7h.01M178.8 629.5h.01M174.3 630.4h.01M178.1 615.9h.01M188.8 622.5h.01M183.1 619.1h.01M179.1 629.2h.01M187.4 623.1h.01M180.5 615.6h.01M175.6 615.5h.01M179.6 618.4h.01M179.2 621.4h.01M173.0 626.4h.01M197.7 613.8h.01M174.1 620.1h.01M186.4 622.5h.01M187.9 614.4h.01M165.7 630.9h.01M184.4 612.0h.01M174.4 626.5h.01M175.8 628.7h.01M175.7 630.5h.01M162.5 627.0h.01M167.1 632.0h.01M182.8 615.2h.01M180.4 616.6h.01M193.3 615.4h.01M168.8 626.7h.01M182.2 614.0h.01M173.1 629.6h.01M167.5 628.5h.01M176.0 619.6h.01M186.8 619.2h.01M191.9 620.6h.01M185.5 615.2h.01M177.2 613.1h.01M174.8 620.4h.01M170.3 620.9h.01M191.1 625.1h.01M177.6 609.0h.01M170.7 620.6h.01M187.1 625.6h.01M176.9 618.1h.01M176.4 623.3h.01M170.1 625.0h.01M160.6 620.3h.01M181.0 618.7h.01M175.9 614.6h.01M175.5 624.9h.01M178.9 621.0h.01M178.0 619.0h.01M195.4 608.5h.01M182.8 622.7h.01M184.8 611.6h.01M167.0 624.7h.01M188.3 609.6h.01M176.8 614.1h.01M185.4 617.2h.01M177.0 626.9h.01M169.6 620.5h.01M181.9 624.2h.01M194.4 628.3h.01M171.9 625.0h.01M192.5 614.0h.01M172.2 629.3h.01M194.3 610.4h.01M176.5 624.7h.01M194.1 619.9h.01M186.9 613.8h.01M183.0 621.1h.01M192.9 617.2h.01M184.7 620.8h.01M179.0 618.2h.01M173.9 615.5h.01M173.5 623.5h.01M175.6 625.9h.01M179.0 625.2h.01M176.3 628.4h.01M194.0 624.1h.01M173.0 622.4h.01M181.1 613.5h.01M177.0 616.0h.01M172.6 626.7h.01M169.9 622.3h.01M185.8 617.3h.01M180.1 622.2h.01M175.4 619.2h.01M192.4 610.7h.01M175.5 614.1h.01M171.7 627.0h.01M200.9 615.3h.01M186.9 621.1h.01M170.4 621.7h.01M187.8 614.3h.01M206.1 622.1h.01M186.1 623.6h.01M189.7 622.9h.01M166.8 627.7h.01M176.0 620.4h.01M191.7 613.6h.01M170.1 625.5h.01M169.6 620.1h.01M183.3 627.7h.01M194.5 621.3h.01M191.9 616.3h.01M176.2 618.8h.01M178.3 612.8h.01M196.5 618.9h.01M181.5 621.9h.01M158.4 628.4h.01M179.8 630.8h.01M172.6 617.4h.01M191.9 619.9h.01M183.9 616.5h.01M185.0 625.4h.01M181.3 624.9h.01M179.3 619.5h.01M181.4 624.9h.01M173.1 608.9h.01M174.7 618.6h.01M177.7 621.6h.01M172.5 627.1h.01M206.1 617.2h.01M178.3 624.0h.01M193.4 615.6h.01M161.9 623.2h.01M186.4 622.4h.01M210.5 619.6h.01M191.6 623.7h.01M168.9 615.5h.01M185.0 617.1h.01M190.8 620.6h.01M214.0 615.6h.01M189.5 619.0h.01M160.8 615.9h.01M194.5 620.2h.01M192.9 619.9h.01M190.0 621.0h.01M180.1 622.1h.01M171.9 621.1h.01M204.5 617.3h.01M184.8 619.7h.01M173.9 618.0h.01M192.7 616.4h.01M182.3 614.1h.01M189.2 617.3h.01M179.6 629.1h.01M175.9 608.3h.01M164.3 629.7h.01M215.5 623.6h.01M194.6 613.1h.01M214.7 610.3h.01M166.0 610.5h.01M171.0 625.7h.01M186.8 616.6h.01M183.5 624.2h.01M191.3 623.6h.01M196.7 616.4h.01M182.7 615.9h.01M191.5 624.6h.01M186.4 618.7h.01M180.5 623.8h.01M182.5 617.8h.01M187.6 625.0h.01M206.2 604.6h.01M180.0 625.1h.01M185.0 612.6h.01M199.9 624.3h.01M191.4 625.3h.01M199.9 617.5h.01M183.6 611.8h.01M190.6 617.5h.01M200.9 617.4h.01M178.7 613.6h.01M181.0 621.7h.01M195.8 617.6h.01M188.5 620.1h.01M199.0 621.9h.01M181.8 621.9h.01M181.9 607.8h.01M161.5 617.7h.01M197.2 616.0h.01M175.2 616.0h.01M175.0 621.5h.01M169.1 621.5h.01M198.8 622.1h.01M210.6 613.6h.01M169.8 623.6h.01M161.0 631.3h.01M173.0 625.1h.01M190.1 618.0h.01M204.3 619.5h.01M194.5 622.0h.01M187.1 612.4h.01M166.0 631.3h.01M214.9 614.2h.01M190.9 620.1h.01M185.8 616.7h.01M189.2 624.2h.01M216.9 617.2h.01M200.9 623.8h.01M205.6 617.0h.01M205.9 609.2h.01M204.1 617.6h.01M175.9 632.7h.01M182.4 617.7h.01M204.2 612.9h.01M180.9 607.6h.01M201.8 617.5h.01M192.8 614.3h.01M182.3 622.6h.01M186.5 613.5h.01M178.3 611.5h.01M190.4 619.7h.01M193.4 611.5h.01M176.9 624.6h.01M204.7 614.1h.01M180.3 612.5h.01M188.2 610.6h.01M199.8 615.1h.01M175.7 624.8h.01M177.9 616.0h.01M200.1 607.7h.01M193.5 612.7h.01M185.7 623.8h.01M195.3 604.8h.01M180.8 621.7h.01M166.7 613.2h.01M185.1 628.5h.01M195.2 613.4h.01M189.3 622.7h.01M181.8 628.6h.01M169.6 614.0h.01M188.3 621.0h.01M190.8 610.4h.01M167.7 624.4h.01M200.1 617.4h.01M198.8 615.4h.01M198.2 611.0h.01M188.0 616.1h.01M190.9 619.3h.01M209.9 629.0h.01M213.8 605.0h.01M176.1 615.5h.01M181.8 616.6h.01M171.4 625.0h.01M179.0 613.2h.01M188.6 616.0h.01M193.7 618.3h.01M180.3 625.5h.01M175.4 618.9h.01M172.5 630.9h.01M203.4 615.6h.01M189.8 616.6h.01M188.0 610.8h.01M171.3 625.1h.01M175.3 621.8h.01M191.8 619.6h.01M167.7 620.6h.01M212.3 613.0h.01M200.0 625.1h.01M196.1 625.5h.01M194.6 615.7h.01M191.0 621.4h.01M199.2 612.8h.01M179.6 623.3h.01M181.3 610.0h.01M170.6 623.3h.01M165.4 625.0h.01M177.4 626.9h.01M199.1 617.9h.01M191.4 618.2h.01M210.8 610.3h.01M180.3 624.8h.01M198.0 622.3h.01M179.4 622.4h.01M209.5 615.3h.01M181.8 609.6h.01M190.4 622.6h.01M184.8 614.2h.01M176.1 625.7h.01M183.9 629.5h.01M157.3 615.5h.01M206.3 630.5h.01M188.2 615.6h.01M160.8 627.3h.01M194.4 628.9h.01M181.3 619.5h.01M182.0 625.2h.01M164.4 616.8h.01M186.4 627.9h.01M186.5 620.7h.01M170.8 625.3h.01M175.1 618.9h.01M180.0 615.3h.01M177.8 623.4h.01M182.4 624.0h.01M201.6 617.1h.01M195.4 613.3h.01M182.7 619.2h.01M189.7 611.0h.01M172.8 629.1h.01M192.8 607.0h.01M182.6 611.0h.01M167.8 620.6h.01M197.4 606.4h.01M186.0 610.9h.01M189.5 617.1h.01M161.6 633.1h.01M178.6 618.9h.01M163.0 623.7h.01M187.0 618.1h.01M182.8 607.7h.01M184.9 621.3h.01M185.2 616.9h.01M182.2 619.2h.01M182.3 621.7h.01M192.4 616.4h.01M182.7 627.8h.01M178.6 625.2h.01M168.5 625.1h.01M213.6 608.5h.01M187.2 622.8h.01M173.9 614.9h.01M197.9 616.3h.01M193.9 619.4h.01M188.0 617.0h.01M187.0 628.6h.01M185.3 621.5h.01M207.7 613.1h.01M185.3 609.2h.01M183.5 626.1h.01M176.8 627.7h.01M195.3 616.3h.01M219.0 609.2h.01M200.5 606.8h.01M180.8 618.8h.01M199.5 606.9h.01M206.8 618.4h.01M176.5 613.0h.01M172.3 627.3h.01M204.0 610.1h.01M176.6 621.4h.01M178.3 613.7h.01M199.9 616.3h.01M187.2 622.5h.01M175.4 608.9h.01M213.7 615.1h.01M183.6 611.4h.01M182.9 621.2h.01M205.8 618.0h.01M176.4 613.8h.01M210.6 611.6h.01M183.5 619.5h.01M167.8 613.5h.01M184.9 619.4h.01M157.0 612.5h.01M200.3 608.3h.01M156.8 627.0h.01M198.2 616.9h.01M199.8 615.9h.01M183.5 616.8h.01M180.1 621.7h.01M163.5 627.7h.01M194.9 616.6h.01M186.2 619.7h.01M195.0 614.2h.01M174.9 620.1h.01M197.7 618.7h.01M195.4 608.1h.01M162.6 616.7h.01M192.8 618.5h.01M195.7 623.1h.01M179.8 618.0h.01M174.7 620.6h.01M181.8 621.0h.01M185.2 622.9h.01M176.2 617.5h.01M195.2 615.0h.01M201.4 619.9h.01M213.5 621.8h.01M182.3 612.6h.01M187.1 616.6h.01M192.6 611.5h.01M207.2 616.4h.01M182.8 616.8h.01M182.1 614.6h.01M173.1 618.4h.01M183.9 623.8h.01M171.7 629.4h.01M186.1 619.0h.01M193.5 618.7h.01M170.9 616.4h.01M182.9 623.3h.01M187.8 619.5h.01M174.0 623.6h.01M175.6 630.5h.01M188.5 619.1h.01M189.0 616.9h.01M188.1 627.0h.01M184.3 614.9h.01M216.3 610.5h.01M181.4 619.1h.01M190.2 616.8h.01M213.6 616.7h.01M197.2 619.3h.01M168.1 625.3h.01M200.0 620.2h.01M162.1 626.9h.01M190.4 614.1h.01M186.1 618.3h.01M164.2 620.8h.01M182.4 615.6h.01M174.5 621.4h.01M204.0 620.1h.01M192.6 618.4h.01M202.7 606.1h.01M194.3 616.9h.01M194.7 615.7h.01M189.9 619.7h.01M173.3 617.1h.01M181.0 617.3h.01M169.1 617.4h.01M189.3 615.4h.01M195.9 622.1h.01M200.1 609.8h.01M155.0 625.4h.01M197.9 607.5h.01M183.1 620.9h.01M182.1 625.3h.01M208.9 612.6h.01M195.7 614.9h.01M205.2 618.5h.01M177.9 620.1h.01M200.1 618.7h.01M163.4 628.2h.01M195.2 612.0h.01M209.0 617.9h.01M179.2 621.8h.01M192.3 618.7h.01M179.0 621.5h.01M164.1 615.5h.01M191.9 621.5h.01M168.4 617.8h.01M194.7 618.3h.01M204.5 604.0h.01M185.5 620.6h.01M158.6 631.0h.01M186.5 619.6h.01M195.8 606.1h.01M204.1 616.1h.01M162.6 614.8h.01M182.2 627.1h.01M186.4 614.3h.01M172.9 610.4h.01M203.5 613.4h.01M178.5 616.2h.01M204.4 617.3h.01M205.4 621.0h.01M186.1 614.2h.01M209.8 609.9h.01M204.7 614.3h.01M172.5 616.0h.01M172.6 626.3h.01M168.2 613.2h.01M186.3 620.0h.01M161.0 627.8h.01M166.8 621.5h.01M178.0 613.7h.01M186.4 621.6h.01M211.5 605.0h.01M170.7 618.5h.01M196.6 625.9h.01M187.4 623.1h.01M187.8 620.6h.01M195.3 624.3h.01M174.4 616.3h.01M181.4 625.7h.01M190.7 626.9h.01M204.9 614.0h.01M187.1 613.9h.01M165.0 626.5h.01M199.6 629.2h.01M175.8 616.8h.01M204.4 616.2h.01M167.5 615.6h.01M184.8 611.2h.01M166.0 619.9h.01M203.5 620.1h.01M177.4 620.8h.01M180.5 622.4h.01M195.6 625.1h.01M209.3 620.4h.01M216.1 611.4h.01M175.7 615.9h.01M176.5 625.4h.01M198.9 621.0h.01M162.3 619.9h.01M170.3 634.4h.01M183.5 626.3h.01M205.2 617.6h.01M183.8 622.4h.01M172.3 623.6h.01M183.3 627.1h.01M192.9 607.6h.01M203.2 614.5h.01M185.2 627.9h.01M181.4 615.6h.01M183.2 630.7h.01M170.9 625.9h.01M168.7 619.8h.01M185.5 616.3h.01M190.4 618.1h.01M185.3 620.3h.01M158.8 624.1h.01M186.9 619.4h.01M179.3 626.1h.01M169.4 612.9h.01M203.5 611.0h.01M174.7 625.5h.01M200.1 613.1h.01M160.5 624.0h.01M180.6 618.5h.01M192.2 623.9h.01M188.8 626.9h.01M201.2 615.8h.01M188.4 620.5h.01M188.8 619.2h.01M176.9 619.5h.01M187.4 612.3h.01M166.3 605.7h.01M169.4 624.2h.01M198.7 607.9h.01M187.0 616.0h.01M176.9 620.3h.01M178.7 633.5h.01M199.3 603.7h.01M187.7 611.9h.01M200.4 622.0h.01M181.1 615.1h.01M177.1 624.9h.01M201.8 616.1h.01M199.5 623.6h.01M177.1 622.9h.01M166.5 626.0h.01M189.5 611.1h.01M175.1 621.0h.01M201.0 613.9h.01M196.8 623.4h.01M187.1 621.5h.01M216.0 605.1h.01M208.5 615.3h.01M208.7 617.3h.01M188.4 628.2h.01M187.5 625.2h.01M172.2 617.1h.01M194.0 618.8h.01M173.0 617.6h.01M167.2 619.0h.01M195.2 611.2h.01M212.0 613.0h.01M179.3 613.3h.01M202.3 620.8h.01M172.3 616.6h.01M176.4 622.3h.01M176.2 609.4h.01M179.9 625.6h.01M170.0 614.7h.01M194.0 608.7h.01M171.4 623.4h.01M175.5 630.6h.01M169.9 619.3h.01M197.1 617.0h.01M193.0 616.5h.01M210.2 612.5h.01M214.4 614.9h.01M175.9 633.5h.01M197.7 606.9h.01M179.6 619.9h.01M160.0 623.9h.01M181.9 616.8h.01M203.0 618.3h.01M182.4 613.6h.01M182.7 612.1h.01M190.8 622.2h.01M157.5 615.7h.01M218.0 616.8h.01M192.3 626.9h.01M196.6 611.1h.01M170.4 622.8h.01M178.8 618.5h.01M188.2 619.3h.01M184.7 613.2h.01M169.9 616.5h.01M196.2 613.7h.01M187.1 632.6h.01M195.7 625.3h.01M175.5 624.4h.01M180.4 622.4h.01M206.6 620.6h.01M182.3 613.6h.01M201.7 609.7h.01M213.5 606.9h.01M181.4 618.4h.01M176.6 627.5h.01M185.9 616.5h.01M159.0 624.8h.01M198.2 623.3h.01M175.1 616.8h.01M175.2 622.2h.01M198.3 615.1h.01M165.5 620.7h.01M196.8 619.2h.01M164.3 623.0h.01M189.6 619.1h.01M182.8 622.8h.01M188.2 619.2h.01M186.2 615.4h.01M185.0 616.6h.01M174.1 621.3h.01M168.8 621.7h.01M211.4 615.9h.01M188.9 615.8h.01M177.9 619.4h.01M216.2 607.8h.01M163.9 620.3h.01M177.3 620.9h.01M166.0 625.5h.01M183.9 621.8h.01M174.4 621.5h.01M174.3 620.3h.01M190.7 617.9h.01M213.7 610.8h.01M202.0 613.2h.01M197.7 620.3h.01M168.7 626.5h.01M180.4 616.6h.01M170.4 624.7h.01M186.9 627.6h.01M168.2 616.2h.01M199.4 615.2h.01M185.9 617.5h.01M183.4 626.5h.01M196.5 611.6h.01M203.9 619.4h.01M173.6 616.7h.01M178.3 622.1h.01M190.5 611.3h.01M166.0 615.4h.01M200.4 628.8h.01M170.3 621.4h.01M184.8 622.6h.01M205.3 617.3h.01M185.5 632.9h.01M176.5 615.4h.01M185.1 614.1h.01M183.2 609.9h.01M202.9 621.9h.01M191.6 610.1h.01M197.7 619.1h.01M188.8 619.3h.01M197.7 610.2h.01M209.0 619.8h.01M182.9 615.6h.01M194.4 617.4h.01M189.4 617.7h.01M183.4 609.6h.01M210.2 619.4h.01M201.0 612.0h.01M184.5 610.8h.01M186.8 611.9h.01M171.0 623.0h.01M190.2 610.6h.01M181.8 631.6h.01M183.9 620.3h.01M159.9 613.7h.01M182.0 610.0h.01M178.3 614.9h.01M183.7 624.5h.01M174.1 619.4h.01M191.3 608.5h.01M186.9 616.6h.01M174.4 622.0h.01M186.5 619.6h.01M189.0 618.6h.01M171.9 617.0h.01M170.0 619.2h.01M187.2 621.8h.01M173.4 626.7h.01M182.7 627.1h.01M185.5 615.0h.01M183.6 609.0h.01M178.8 623.6h.01M191.8 620.2h.01M177.7 615.7h.01M191.8 611.1h.01M183.8 620.9h.01M194.0 613.8h.01M199.4 615.6h.01M199.7 619.3h.01M216.7 615.0h.01M183.3 617.2h.01M206.9 620.1h.01M200.7 612.5h.01M188.6 611.6h.01M173.8 615.5h.01M189.4 620.0h.01M177.4 634.1h.01M186.2 615.8h.01M194.5 615.3h.01M173.6 618.1h.01M199.5 623.0h.01M164.9 616.4h.01M174.2 623.4h.01M179.1 617.4h.01M202.6 616.3h.01M196.6 622.0h.01M190.1 625.3h.01M184.5 617.3h.01M177.6 621.4h.01M181.5 617.8h.01M188.4 624.1h.01M189.2 621.5h.01M180.8 617.3h.01M177.6 617.8h.01M176.2 609.8h.01M191.7 614.6h.01M170.1 617.1h.01M176.1 619.2h.01M190.0 619.0h.01M210.3 620.3h.01M207.9 626.5h.01M199.6 616.4h.01M183.9 621.1h.01M201.0 616.7h.01M189.5 631.0h.01M160.6 623.5h.01M186.2 608.8h.01M185.0 613.7h.01M179.8 621.3h.01M185.6 625.5h.01M160.8 616.2h.01M177.7 611.5h.01M202.2 612.0h.01M169.3 619.7h.01M183.0 622.8h.01M177.4 628.7h.01M195.4 617.1h.01M169.0 627.1h.01M202.2 621.4h.01M202.0 620.1h.01M173.2 616.7h.01M214.1 612.8h.01M193.8 609.5h.01M191.2 617.8h.01M188.7 628.7h.01M188.2 624.9h.01M182.6 611.9h.01M191.2 616.6h.01M180.8 627.3h.01M182.5 624.1h.01M195.7 601.9h.01M169.7 615.1h.01M184.1 614.6h.01M190.8 621.8h.01M182.3 622.4h.01M175.7 611.1h.01M174.7 626.3h.01M213.9 615.3h.01M184.7 613.8h.01M190.4 617.2h.01M163.8 612.0h.01M191.7 623.6h.01M166.9 619.0h.01M191.6 624.9h.01M190.9 619.2h.01M175.0 623.4h.01M203.8 619.1h.01M164.9 613.1h.01M175.8 617.0h.01M170.1 617.2h.01M193.1 616.6h.01M201.2 619.7h.01M181.6 614.5h.01M191.4 615.9h.01M181.0 619.4h.01M184.3 616.3h.01M197.7 621.7h.01M182.8 625.5h.01M167.6 611.4h.01M180.2 623.0h.01M179.3 622.9h.01M162.4 628.3h.01M192.0 611.7h.01M185.3 624.7h.01M199.1 619.5h.01M182.6 624.4h.01M182.2 618.7h.01M185.0 622.5h.01M174.4 609.9h.01M190.4 622.5h.01M199.2 607.0h.01M189.1 618.3h.01M184.4 619.3h.01M205.6 623.5h.01M182.2 622.7h.01M197.3 620.7h.01M186.9 637.0h.01M184.7 613.7h.01M205.2 613.4h.01M202.5 617.8h.01M187.8 634.9h.01M195.1 618.0h.01M192.3 608.6h.01M218.4 614.7h.01M188.2 611.3h.01M192.9 612.6h.01M191.7 622.4h.01M199.4 618.0h.01M211.1 612.0h.01M195.9 618.6h.01M184.1 621.6h.01M179.4 618.6h.01M164.1 619.5h.01M196.5 616.6h.01M213.1 619.8h.01M197.7 625.9h.01M205.6 623.7h.01M170.5 629.6h.01M173.1 618.8h.01M195.6 607.9h.01M202.3 618.8h.01M186.4 619.8h.01M190.1 609.2h.01M162.1 627.2h.01M182.1 610.7h.01M204.7 612.9h.01M190.7 623.4h.01M162.3 623.3h.01M209.0 608.5h.01M183.4 610.0h.01M172.2 624.9h.01M196.8 613.6h.01M200.9 619.5h.01M204.6 612.7h.01M188.2 619.9h.01M173.3 616.8h.01M160.0 630.2h.01M188.7 628.3h.01M178.5 625.4h.01M186.2 616.2h.01M183.0 614.2h.01M173.8 627.3h.01M178.4 626.8h.01M182.0 619.9h.01M193.2 614.0h.01M178.4 617.3h.01M203.3 619.1h.01M188.3 610.8h.01M192.2 613.9h.01M218.8 610.4h.01M177.0 616.6h.01M180.9 623.3h.01M174.7 614.2h.01M195.3 617.1h.01M164.6 631.9h.01M188.5 614.8h.01M189.3 613.6h.01M169.2 617.0h.01M160.0 636.3h.01M180.5 613.6h.01M177.2 623.3h.01M188.9 626.9h.01M198.1 621.1h.01M189.9 609.7h.01M190.3 624.5h.01M182.2 619.3h.01M195.2 620.7h.01M186.9 620.8h.01M224.4 606.5h.01M191.9 620.6h.01M193.7 617.6h.01M216.9 610.1h.01M176.4 629.0h.01M215.9 604.3h.01M190.8 609.2h.01M156.9 618.4h.01M200.9 617.0h.01M181.7 613.2h.01M186.2 614.7h.01M186.9 618.1h.01M161.1 628.0h.01M180.7 624.1h.01M172.1 612.8h.01M191.6 616.2h.01M165.6 628.4h.01M214.2 612.9h.01M184.1 608.6h.01M174.0 610.9h.01M187.7 619.6h.01M189.4 614.7h.01M186.2 615.3h.01M175.1 614.1h.01M194.0 615.1h.01M192.5 616.6h.01M156.2 620.4h.01M177.1 622.6h.01M172.7 632.6h.01M187.9 617.7h.01M197.5 615.1h.01M181.4 620.7h.01M160.6 623.9h.01M191.1 621.3h.01M188.7 618.4h.01M165.3 629.8h.01M187.3 627.9h.01M187.9 610.1h.01M171.4 622.6h.01M165.6 619.6h.01M159.8 622.3h.01M188.5 621.2h.01M199.0 614.6h.01M207.0 612.9h.01M185.3 612.2h.01M192.7 617.6h.01M207.6 614.0h.01M193.6 621.7h.01M217.9 622.1h.01M230.9 613.8h.01M239.6 612.7h.01M206.2 616.9h.01M227.1 619.0h.01M172.8 620.9h.01M218.8 619.7h.01M198.7 616.7h.01M195.0 622.6h.01M230.7 617.8h.01M199.5 613.8h.01M238.1 612.9h.01M206.7 616.7h.01M218.8 622.1h.01M211.2 629.2h.01M217.1 616.1h.01M205.3 624.4h.01M184.1 610.0h.01M196.9 625.0h.01M210.0 630.8h.01M230.6 619.2h.01M230.9 606.4h.01M201.6 616.8h.01M187.4 622.1h.01M240.7 613.8h.01M200.9 613.6h.01M218.7 612.8h.01M207.7 611.5h.01M193.7 622.2h.01M191.0 607.3h.01M199.3 618.1h.01M210.7 614.2h.01M210.0 625.7h.01M210.6 621.3h.01M186.6 612.9h.01M198.6 608.8h.01M194.4 621.5h.01M244.6 620.4h.01M228.2 622.1h.01M222.8 623.8h.01M196.5 615.7h.01M218.1 606.4h.01M221.9 609.8h.01M218.7 617.9h.01M209.4 612.6h.01M209.7 623.8h.01M222.5 615.4h.01M204.5 612.5h.01M236.7 625.6h.01M204.1 614.8h.01M232.3 621.5h.01M201.0 616.1h.01M187.4 622.4h.01M217.9 634.7h.01M225.3 617.1h.01M199.5 616.2h.01M197.3 618.5h.01M194.5 616.6h.01M213.0 609.6h.01M221.0 615.0h.01M200.6 620.5h.01M222.2 612.0h.01M207.9 614.7h.01M226.6 621.7h.01M235.6 603.5h.01M192.5 620.0h.01M230.5 613.1h.01M227.6 618.3h.01M223.2 609.7h.01M215.0 610.0h.01M206.7 616.6h.01M231.7 604.5h.01M214.7 614.7h.01M208.2 623.9h.01M198.8 615.2h.01M207.4 612.6h.01M215.0 622.0h.01M188.5 617.6h.01M213.1 621.8h.01M235.3 615.8h.01M197.4 612.7h.01M227.0 615.5h.01M222.7 618.9h.01M213.1 610.7h.01M219.6 620.1h.01M188.0 615.6h.01M231.3 610.4h.01M204.8 615.0h.01M216.4 616.0h.01M209.9 621.2h.01M209.2 614.0h.01M218.0 614.7h.01M189.1 610.1h.01M198.7 617.1h.01M231.2 611.1h.01M183.6 620.9h.01M201.3 616.9h.01M235.2 614.2h.01M198.3 616.5h.01M207.2 630.2h.01M219.5 611.9h.01M196.0 615.2h.01M232.0 612.7h.01M203.2 622.4h.01M203.0 618.8h.01M211.7 617.7h.01M240.9 622.7h.01M211.4 624.5h.01M211.9 611.3h.01M218.9 616.8h.01M209.6 612.2h.01M202.6 622.9h.01M193.0 615.4h.01M213.2 624.7h.01M226.1 610.7h.01M227.7 612.8h.01M233.4 613.9h.01M217.5 607.9h.01M207.6 612.7h.01M237.9 615.8h.01M224.3 619.4h.01M238.0 623.3h.01M220.2 619.6h.01M211.9 615.3h.01M225.2 627.4h.01M229.0 616.2h.01M240.0 607.8h.01M249.4 614.8h.01M199.1 608.6h.01M222.4 619.2h.01M224.4 620.2h.01M206.7 618.8h.01M198.5 626.4h.01M227.3 605.4h.01M198.4 615.3h.01M225.7 612.9h.01M248.2 620.4h.01M210.8 613.6h.01M197.3 618.8h.01M230.8 625.5h.01M213.5 606.2h.01M201.9 615.5h.01M190.2 622.4h.01M209.4 618.5h.01M214.6 617.6h.01M191.5 626.7h.01M220.7 615.9h.01M206.9 620.6h.01M212.3 617.5h.01M203.7 608.0h.01M213.5 627.3h.01M201.9 616.6h.01M223.8 613.5h.01M227.8 612.0h.01M200.4 616.0h.01M205.6 611.9h.01M238.5 621.9h.01M209.8 609.8h.01M235.5 617.9h.01M193.4 623.2h.01M188.3 617.8h.01M227.3 621.0h.01M222.6 622.1h.01M243.8 616.0h.01M198.8 624.7h.01M211.9 620.2h.01M206.4 607.8h.01M218.5 619.2h.01M232.1 616.5h.01M232.3 611.2h.01M229.6 618.5h.01M194.6 619.2h.01M196.1 626.6h.01M217.5 620.0h.01M224.4 611.2h.01M193.0 627.2h.01M242.2 611.3h.01M240.6 625.2h.01M213.0 610.6h.01M207.7 612.8h.01M223.4 624.5h.01M225.7 617.4h.01M218.0 605.6h.01M219.2 620.0h.01M209.6 620.6h.01M232.6 615.8h.01M209.2 621.6h.01M236.7 611.4h.01M225.4 615.6h.01M197.1 609.2h.01M190.0 617.3h.01M237.4 612.0h.01M181.5 614.7h.01M229.5 613.6h.01M206.5 623.8h.01M186.5 614.2h.01M223.8 624.9h.01M207.9 618.6h.01M238.0 614.5h.01M225.5 618.6h.01M226.4 619.0h.01M209.2 618.0h.01M232.2 613.1h.01M200.5 619.1h.01M224.9 625.3h.01M187.7 606.4h.01M196.3 615.7h.01M210.0 618.6h.01M223.2 607.4h.01M216.1 614.7h.01M219.6 621.0h.01M196.3 610.9h.01M208.7 616.7h.01M220.8 617.8h.01M211.6 620.1h.01M203.1 622.6h.01M221.5 622.8h.01M179.7 619.7h.01M207.1 625.3h.01M192.7 617.8h.01M222.4 607.2h.01M217.4 620.2h.01M211.2 617.2h.01M222.0 619.8h.01M224.4 626.9h.01M218.0 610.3h.01M204.4 607.8h.01M209.7 613.4h.01M215.5 612.8h.01M229.0 621.2h.01M187.2 631.3h.01M210.2 616.7h.01M230.4 621.0h.01M217.7 619.4h.01M206.8 612.6h.01M210.9 624.5h.01M219.8 618.9h.01M209.9 625.9h.01M218.7 617.6h.01M211.1 616.4h.01M206.9 613.6h.01M232.3 615.8h.01M230.7 632.8h.01M231.1 623.3h.01M202.2 606.2h.01M219.4 616.5h.01M220.8 612.0h.01M216.8 613.6h.01M227.2 616.3h.01M218.4 623.5h.01M224.1 615.0h.01M194.0 628.9h.01M188.6 618.1h.01M205.2 618.2h.01M202.4 612.0h.01M189.9 620.1h.01M200.5 624.1h.01M259.8 613.6h.01M211.7 611.7h.01M224.6 610.6h.01M207.6 612.9h.01M221.6 623.1h.01M221.3 612.2h.01M206.2 618.7h.01M191.3 618.4h.01M221.8 622.4h.01M223.9 624.2h.01M250.2 611.0h.01M229.5 619.7h.01M212.9 619.0h.01M207.3 612.7h.01M233.0 615.1h.01M214.9 631.5h.01M206.7 616.7h.01M224.2 616.6h.01M221.8 618.8h.01M222.8 615.3h.01M209.5 616.3h.01M225.9 618.2h.01M230.1 615.5h.01M207.9 621.5h.01M204.7 625.8h.01M214.5 618.2h.01M210.4 621.5h.01M232.6 614.0h.01M227.1 606.6h.01M207.3 628.5h.01M233.3 631.8h.01M223.8 624.8h.01M213.2 615.3h.01M218.9 625.3h.01M230.7 621.8h.01M245.8 617.3h.01M195.3 625.4h.01M210.4 615.1h.01M230.5 625.1h.01M201.2 609.9h.01M225.4 607.1h.01M218.1 617.0h.01M230.3 615.3h.01M222.8 616.5h.01M207.1 620.9h.01M255.5 614.2h.01M211.1 613.1h.01M200.9 617.2h.01M219.1 627.4h.01M209.9 614.9h.01M201.3 608.0h.01M220.7 619.4h.01M209.1 611.2h.01M224.9 623.6h.01M195.4 620.7h.01M223.4 626.3h.01M224.3 624.7h.01M231.0 604.5h.01M208.2 608.0h.01M199.6 617.4h.01M210.5 630.5h.01M190.2 624.4h.01M222.8 624.5h.01M198.5 622.1h.01M211.2 610.5h.01M223.3 623.9h.01M215.0 614.6h.01M230.1 626.4h.01M209.8 619.0h.01M224.9 632.8h.01M243.6 616.1h.01M227.4 618.1h.01M245.4 613.2h.01M228.9 617.7h.01M242.5 619.8h.01M233.1 614.7h.01M245.5 617.5h.01M229.8 618.5h.01M243.9 615.9h.01M251.5 617.3h.01M224.0 618.6h.01M240.7 613.9h.01M239.9 622.8h.01M246.9 618.0h.01M258.3 618.9h.01M235.4 613.8h.01M232.2 616.2h.01M241.2 621.1h.01M243.4 629.6h.01M240.2 609.1h.01M233.3 621.7h.01M239.3 615.9h.01M252.2 620.5h.01M262.6 609.5h.01M232.6 617.7h.01M250.6 620.0h.01M249.6 606.8h.01M251.0 626.5h.01M229.5 614.2h.01M213.4 618.5h.01M232.0 621.5h.01M261.2 609.2h.01M234.9 619.9h.01M233.5 608.8h.01M241.4 615.4h.01M235.3 606.9h.01M246.2 629.6h.01M225.8 608.4h.01M245.2 619.9h.01M250.7 612.5h.01M243.8 614.4h.01M256.1 615.9h.01M248.6 612.1h.01M260.6 605.7h.01M241.0 615.2h.01M216.7 605.3h.01M237.2 618.9h.01M251.8 610.4h.01M243.3 619.3h.01M237.5 622.4h.01M240.8 620.3h.01M250.1 614.3h.01M238.3 617.1h.01M233.5 614.6h.01M246.7 609.5h.01M231.0 607.8h.01M247.7 615.5h.01M248.0 616.5h.01M246.7 618.5h.01M250.1 606.3h.01M223.1 612.9h.01M253.8 619.1h.01M209.5 619.0h.01M235.0 623.1h.01M237.9 621.7h.01M245.5 615.2h.01M217.0 611.3h.01M240.5 614.9h.01M235.6 611.7h.01M257.3 615.2h.01M233.6 614.2h.01M240.1 616.9h.01M235.0 618.1h.01M267.6 622.3h.01M238.6 623.4h.01M225.2 623.0h.01M260.1 611.2h.01M251.8 624.0h.01M243.4 614.3h.01M259.7 616.1h.01M235.1 607.8h.01M240.1 608.5h.01M249.5 621.6h.01M256.0 619.2h.01M258.7 621.1h.01M266.1 606.0h.01M230.9 612.1h.01M233.3 612.7h.01M229.7 614.2h.01M236.2 605.0h.01M239.7 611.7h.01M245.7 617.7h.01M254.0 619.2h.01M219.3 620.5h.01M232.6 616.5h.01M236.5 614.6h.01M237.2 625.4h.01M243.8 620.4h.01M223.3 610.8h.01M237.1 612.2h.01M242.7 615.7h.01M236.8 612.5h.01M235.4 625.8h.01M263.6 622.5h.01M250.5 624.3h.01M231.7 612.0h.01M259.7 613.4h.01M255.9 610.9h.01M243.0 612.4h.01M252.3 625.7h.01" stroke="#111" stroke-width="0.8" stroke-linecap="square" fill="none"/>
<text class="r" x="151.4" y="658.5" font-size="8.3" text-anchor="middle" fill="#111" style="stroke:#111;stroke-width:0.15px">10<tspan dy="-3.2" font-size="6">0</tspan></text>
<text class="r" x="183.6" y="658.5" font-size="8.3" text-anchor="middle" fill="#111" style="stroke:#111;stroke-width:0.15px">10<tspan dy="-3.2" font-size="6">1</tspan></text>
<text class="r" x="215.8" y="658.5" font-size="8.3" text-anchor="middle" fill="#111" style="stroke:#111;stroke-width:0.15px">10<tspan dy="-3.2" font-size="6">2</tspan></text>
<text class="r" x="248.0" y="658.5" font-size="8.3" text-anchor="middle" fill="#111" style="stroke:#111;stroke-width:0.15px">10<tspan dy="-3.2" font-size="6">3</tspan></text>
<text class="r" x="280.2" y="658.5" font-size="8.3" text-anchor="middle" fill="#111" style="stroke:#111;stroke-width:0.15px">10<tspan dy="-3.2" font-size="6">4</tspan></text>
<text class="r" transform="translate(148.6,523.1) rotate(-90)" font-size="8.3" text-anchor="middle" fill="#111" style="stroke:#111;stroke-width:0.15px">1024</text>
<text class="r" transform="translate(148.4,647.1) rotate(-90)" font-size="8.3" text-anchor="middle" fill="#111" style="stroke:#111;stroke-width:0.2px">0</text>
<rect x="295.4" y="521.3" width="128.4" height="126.0" fill="#fff" stroke="#808080" stroke-width="0.7"/>
<line x1="348.00" y1="521.30" x2="348.00" y2="647.30" stroke="#808080" stroke-width="0.7"/>
<line x1="295.40" y1="599.40" x2="423.80" y2="599.40" stroke="#808080" stroke-width="0.7"/>
<line x1="294.6" y1="521.3" x2="294.6" y2="647.3" stroke="#c4c4c4" stroke-width="1.1" stroke-dasharray="0.6,1.4"/>
<text x="361.60" y="516.20" font-size="13.6" text-anchor="middle" >Anti-CD69</text>
<text x="415.90" y="642.60" font-size="11.8" text-anchor="end" >31.27</text>
<path d="M343.7 610.3h.01M334.6 621.7h.01M319.5 621.4h.01M318.2 623.5h.01M328.0 620.2h.01M314.7 626.1h.01M322.2 622.7h.01M313.0 619.5h.01M332.6 617.8h.01M316.2 627.7h.01M322.7 623.2h.01M321.8 614.6h.01M320.6 619.1h.01M316.8 631.2h.01M327.3 621.6h.01M322.3 628.0h.01M320.0 626.2h.01M318.9 630.6h.01M324.0 623.3h.01M319.7 612.5h.01M304.9 622.2h.01M329.3 618.5h.01M333.0 620.5h.01M329.2 612.2h.01M331.6 607.1h.01M339.1 616.5h.01M332.8 617.9h.01M333.2 621.3h.01M344.4 610.7h.01M333.0 622.5h.01M308.3 622.1h.01M307.1 630.2h.01M313.7 632.5h.01M335.1 613.3h.01M318.3 613.1h.01M324.7 625.0h.01M325.8 613.8h.01M326.2 618.1h.01M318.5 628.0h.01M324.4 633.5h.01M313.8 620.9h.01M314.8 620.9h.01M324.0 620.4h.01M325.3 617.7h.01M328.1 627.4h.01M315.2 624.7h.01M321.0 615.9h.01M313.1 621.9h.01M318.5 632.8h.01M337.0 610.4h.01M326.5 612.6h.01M322.2 625.7h.01M316.9 635.1h.01M317.1 626.1h.01M312.9 624.5h.01M323.5 623.2h.01M322.7 631.3h.01M331.9 622.6h.01M315.3 620.7h.01M323.2 631.2h.01M336.9 616.9h.01M326.7 616.3h.01M334.6 626.2h.01M323.5 615.8h.01M323.2 623.1h.01M321.1 618.9h.01M329.1 617.9h.01M320.4 619.9h.01M310.3 625.8h.01M326.4 610.7h.01M317.5 619.9h.01M339.0 622.8h.01M317.2 624.5h.01M306.8 622.9h.01M315.8 628.6h.01M331.1 617.1h.01M349.6 612.9h.01M312.9 629.7h.01M332.9 619.9h.01M324.8 614.2h.01M321.6 622.4h.01M309.2 628.7h.01M318.4 624.2h.01M319.5 617.0h.01M329.3 613.4h.01M312.0 622.1h.01M308.5 617.3h.01M319.1 617.4h.01M329.0 615.3h.01M326.4 620.7h.01M338.8 615.9h.01M320.7 618.0h.01M321.6 620.3h.01M313.0 622.9h.01M333.5 621.0h.01M319.3 618.5h.01M324.2 613.7h.01M326.9 624.7h.01M323.3 625.2h.01M308.9 621.9h.01M326.1 620.1h.01M306.7 620.3h.01M316.1 611.1h.01M339.6 624.6h.01M337.1 623.9h.01M338.2 621.9h.01M336.5 615.8h.01M322.6 627.9h.01M313.1 615.1h.01M322.8 612.7h.01M326.6 617.3h.01M336.5 620.7h.01M324.3 620.8h.01M324.9 613.9h.01M328.0 612.8h.01M326.6 615.6h.01M304.8 624.7h.01M326.4 618.5h.01M318.3 616.0h.01M328.4 628.8h.01M327.3 622.3h.01M336.5 616.7h.01M307.8 624.4h.01M312.4 622.1h.01M329.6 610.0h.01M310.7 618.4h.01M343.3 612.7h.01M315.7 622.6h.01M324.7 618.3h.01M311.4 631.8h.01M330.3 624.8h.01M335.9 619.6h.01M326.6 611.8h.01M312.3 620.9h.01M321.4 622.1h.01M322.8 629.6h.01M325.7 615.8h.01M314.9 625.7h.01M313.2 627.9h.01M323.6 617.7h.01M326.1 620.0h.01M326.6 612.3h.01M322.5 612.3h.01M345.4 612.8h.01M328.7 618.4h.01M313.4 622.2h.01M316.0 617.3h.01M332.8 616.9h.01M316.8 619.5h.01M325.0 621.2h.01M323.1 623.1h.01M312.0 633.3h.01M315.3 614.3h.01M333.4 623.3h.01M333.6 618.0h.01M324.3 623.1h.01M321.8 617.6h.01M337.7 616.2h.01M329.3 619.3h.01M323.8 612.5h.01M312.7 621.8h.01M332.5 620.4h.01M325.4 618.0h.01M327.5 621.7h.01M329.8 615.8h.01M320.3 617.7h.01M324.1 615.1h.01M311.3 617.0h.01M336.3 612.8h.01M308.7 624.3h.01M322.1 611.4h.01M311.8 621.9h.01M309.8 625.5h.01M329.8 614.9h.01M334.1 613.4h.01M342.1 618.9h.01M345.3 625.7h.01M325.1 611.2h.01M318.7 621.7h.01M309.6 628.0h.01M326.7 625.1h.01M305.0 632.9h.01M331.4 627.9h.01M325.0 628.0h.01M325.3 622.6h.01M331.2 629.8h.01M318.2 621.4h.01M332.9 618.8h.01M333.3 619.4h.01M311.6 624.6h.01M329.0 616.6h.01M326.9 621.9h.01M330.1 621.3h.01M339.3 622.4h.01M313.5 623.6h.01M326.8 620.6h.01M334.9 618.5h.01M324.4 620.6h.01M319.6 628.2h.01M324.8 607.6h.01M315.6 614.4h.01M328.6 614.3h.01M329.0 610.0h.01M314.5 636.1h.01M318.2 630.7h.01M325.3 631.8h.01M330.4 615.5h.01M317.2 612.1h.01M333.2 622.0h.01M320.3 622.9h.01M321.5 620.8h.01M321.1 623.1h.01M326.1 619.6h.01M330.7 626.7h.01M323.6 608.9h.01M328.4 623.9h.01M325.2 617.6h.01M322.7 608.2h.01M332.1 625.9h.01M328.2 625.8h.01M325.9 625.2h.01M334.5 614.9h.01M323.1 617.8h.01M325.5 611.0h.01M320.8 621.1h.01M310.6 614.1h.01M316.2 630.2h.01M337.4 615.7h.01M325.3 619.8h.01M306.2 628.0h.01M325.9 623.4h.01M324.4 611.7h.01M326.1 626.9h.01M316.1 622.0h.01M321.7 617.7h.01M304.4 620.8h.01M321.7 625.3h.01M307.6 625.6h.01M322.3 615.8h.01M312.0 623.7h.01M317.4 619.0h.01M316.6 619.6h.01M324.8 621.4h.01M322.7 619.0h.01M330.6 621.5h.01M333.7 619.2h.01M323.0 616.0h.01M309.3 620.4h.01M313.9 628.8h.01M322.4 618.5h.01M321.5 624.9h.01M324.1 617.9h.01M338.2 618.3h.01M343.6 622.1h.01M324.2 611.4h.01M331.3 619.6h.01M336.9 618.7h.01M314.5 629.7h.01M323.3 623.5h.01M330.4 614.4h.01M333.2 612.9h.01M327.8 619.5h.01M334.4 613.1h.01M331.3 611.3h.01M322.8 629.0h.01M330.0 614.1h.01M323.0 617.6h.01M328.3 626.6h.01M332.4 618.7h.01M328.7 615.4h.01M325.1 625.6h.01M321.6 615.4h.01M317.8 617.3h.01M307.2 628.5h.01M318.6 617.0h.01M312.0 627.2h.01M330.0 620.9h.01M332.3 620.3h.01M318.4 623.2h.01M317.2 623.9h.01M308.9 625.0h.01M334.0 618.9h.01M318.4 618.6h.01M316.9 613.8h.01M330.0 620.2h.01M309.2 631.5h.01M335.8 615.2h.01M329.5 613.8h.01M330.5 627.6h.01M323.0 623.2h.01M323.4 622.5h.01M323.2 621.9h.01M322.7 624.8h.01M322.7 622.7h.01M330.7 618.5h.01M318.3 620.2h.01M323.5 625.1h.01M330.4 620.3h.01M325.2 615.9h.01M315.8 631.8h.01M332.0 615.4h.01M330.1 623.3h.01M327.8 609.7h.01M319.5 623.7h.01M326.6 621.7h.01M306.5 629.9h.01M324.7 616.0h.01M318.6 624.2h.01M320.9 633.4h.01M317.7 622.3h.01M334.6 619.7h.01M319.3 622.7h.01M344.6 617.2h.01M337.6 610.6h.01M317.1 618.4h.01M311.3 630.9h.01M321.1 620.8h.01M330.5 616.0h.01M338.6 616.5h.01M314.2 621.6h.01M323.2 625.2h.01M314.8 619.4h.01M324.3 617.5h.01M319.1 622.4h.01M341.6 616.0h.01M311.4 623.9h.01M323.1 614.6h.01M334.7 617.4h.01M325.8 618.3h.01M318.3 623.3h.01M313.9 625.7h.01M323.1 619.5h.01M330.2 622.5h.01M325.1 619.9h.01M332.5 625.9h.01M335.9 617.3h.01M322.0 626.8h.01M342.3 614.3h.01M333.2 624.1h.01M314.9 620.0h.01M312.7 632.9h.01M320.8 624.0h.01M332.8 624.2h.01M325.0 630.1h.01M316.4 629.9h.01M316.8 616.7h.01M320.8 625.9h.01M325.5 626.7h.01M325.6 622.5h.01M325.4 623.5h.01M328.4 613.8h.01M321.1 622.5h.01M324.7 617.8h.01M318.4 614.8h.01M317.5 625.8h.01M326.4 617.6h.01M329.2 618.1h.01M327.0 613.0h.01M321.1 622.0h.01M323.3 626.6h.01M315.2 623.1h.01M321.5 628.5h.01M324.8 621.0h.01M330.4 625.4h.01M314.0 623.1h.01M321.2 625.2h.01M320.6 618.4h.01M321.5 615.3h.01M326.9 617.9h.01M314.7 621.5h.01M332.0 625.0h.01M334.6 623.6h.01M326.0 621.2h.01M322.2 620.7h.01M338.9 618.2h.01M311.9 630.2h.01M326.0 613.6h.01M328.5 610.9h.01M324.1 622.1h.01M324.0 614.6h.01M322.2 621.5h.01M313.4 620.6h.01M331.8 615.0h.01M325.7 617.6h.01M318.5 618.9h.01M316.7 622.2h.01M331.0 611.4h.01M324.9 615.3h.01M324.6 624.7h.01M322.4 619.1h.01M325.6 620.1h.01M301.8 628.8h.01M313.2 625.0h.01M324.1 621.9h.01M308.7 622.1h.01M327.9 621.0h.01M340.4 614.8h.01M301.9 630.8h.01M319.7 627.7h.01M321.1 620.7h.01M326.2 621.3h.01M318.9 622.0h.01M330.7 616.0h.01M305.2 626.8h.01M311.7 625.1h.01M330.8 617.5h.01M308.1 625.5h.01M323.9 620.6h.01M328.2 618.4h.01M325.1 623.3h.01M310.3 624.1h.01M310.9 622.1h.01M338.1 616.0h.01M331.3 620.6h.01M338.2 615.2h.01M319.3 626.6h.01M332.2 618.1h.01M307.6 630.7h.01M325.4 613.7h.01M324.5 615.6h.01M313.8 617.7h.01M317.6 627.1h.01M318.4 625.3h.01M329.0 620.9h.01M307.7 634.7h.01M335.9 613.8h.01M311.1 613.4h.01M324.8 620.8h.01M317.1 628.9h.01M335.1 617.6h.01M312.5 619.3h.01M324.5 620.3h.01M334.6 609.2h.01M330.8 614.9h.01M313.4 624.3h.01M317.1 626.8h.01M321.2 620.7h.01M329.6 620.7h.01M325.9 604.9h.01M328.2 614.8h.01M301.5 622.4h.01M337.9 618.1h.01M340.3 609.3h.01M318.5 624.1h.01M334.9 612.3h.01M317.4 630.4h.01M316.4 622.8h.01M324.9 620.6h.01M310.2 609.9h.01M333.4 614.7h.01M319.3 619.1h.01M325.2 621.7h.01M344.2 617.9h.01M330.7 616.8h.01M316.9 629.4h.01M325.2 624.6h.01M331.5 616.0h.01M328.8 618.5h.01M326.1 625.0h.01M326.2 627.1h.01M321.8 623.9h.01M325.3 616.3h.01M325.8 621.2h.01M316.5 622.3h.01M324.0 613.2h.01M330.4 615.9h.01M314.5 629.9h.01M318.7 622.2h.01M323.0 631.2h.01M321.3 622.6h.01M328.5 618.7h.01M333.7 621.2h.01M349.8 613.0h.01M331.1 612.4h.01M324.5 619.4h.01M329.1 614.0h.01M310.5 618.0h.01M327.5 623.8h.01M308.9 624.3h.01M316.1 629.9h.01M313.2 623.1h.01M318.3 623.3h.01M328.5 616.6h.01M318.9 625.2h.01M323.7 618.7h.01M319.2 626.0h.01M317.4 619.5h.01M332.1 623.2h.01M322.1 619.9h.01M317.4 621.8h.01M324.8 619.9h.01M321.3 626.0h.01M327.9 622.4h.01M321.8 622.9h.01M315.4 611.5h.01M305.5 617.4h.01M330.2 624.4h.01M309.3 619.7h.01M332.9 623.0h.01M318.7 623.1h.01M332.0 625.3h.01M341.9 616.5h.01M315.1 626.4h.01M340.7 617.8h.01M321.8 625.4h.01M318.3 616.9h.01M318.9 619.5h.01M311.8 622.3h.01M329.0 619.3h.01M319.7 620.2h.01M324.5 627.2h.01M323.2 626.8h.01M301.0 635.0h.01M318.9 625.7h.01M339.4 609.1h.01M315.6 624.6h.01M315.6 614.5h.01M336.4 617.0h.01M322.3 618.7h.01M319.1 620.4h.01M311.3 631.0h.01M312.0 625.0h.01M311.5 631.3h.01M312.4 621.0h.01M324.9 625.5h.01M312.4 625.9h.01M315.8 618.9h.01M324.6 625.1h.01M319.0 632.1h.01M333.0 615.5h.01M322.4 620.3h.01M318.0 627.1h.01M317.5 616.0h.01M315.0 622.3h.01M330.6 627.9h.01M323.8 625.5h.01M319.0 622.5h.01M318.3 631.3h.01M324.9 628.9h.01M309.4 619.3h.01M320.4 615.4h.01M336.0 616.6h.01M319.5 612.6h.01M318.7 617.8h.01M327.6 615.7h.01M338.8 616.5h.01M320.6 622.0h.01M326.1 617.3h.01M325.5 607.6h.01M333.0 620.5h.01M325.4 610.3h.01M310.9 627.4h.01M333.8 604.8h.01M322.0 620.3h.01M339.1 614.5h.01M324.8 620.5h.01M332.8 620.7h.01M337.3 625.1h.01M318.9 621.4h.01M325.9 626.9h.01M330.6 617.9h.01M332.6 630.2h.01M318.5 626.6h.01M313.8 619.9h.01M323.9 620.8h.01M335.1 608.2h.01M319.0 617.4h.01M310.6 619.6h.01M323.9 626.6h.01M324.0 610.3h.01M318.3 616.1h.01M325.9 620.8h.01M322.0 620.7h.01M319.2 614.6h.01M320.4 628.0h.01M311.5 621.9h.01M311.1 638.8h.01M316.0 621.0h.01M316.3 628.8h.01M320.0 623.7h.01M334.5 620.2h.01M319.3 613.7h.01M315.5 630.6h.01M325.7 628.5h.01M340.0 614.0h.01M320.6 616.4h.01M312.3 624.9h.01M332.6 626.2h.01M330.2 615.4h.01M323.0 621.8h.01M321.3 627.9h.01M318.7 621.1h.01M333.3 608.8h.01M307.3 615.9h.01M308.4 624.3h.01M309.9 620.2h.01M325.5 624.9h.01M319.9 622.8h.01M315.6 616.5h.01M325.4 614.9h.01M325.1 623.1h.01M318.7 615.5h.01M314.3 625.9h.01M320.6 616.6h.01M334.3 616.1h.01M324.5 625.3h.01M333.4 618.6h.01M320.0 617.8h.01M325.8 621.6h.01M332.1 627.4h.01M336.3 613.2h.01M337.0 616.2h.01M329.2 612.5h.01M322.7 619.2h.01M344.2 620.7h.01M336.2 615.2h.01M314.4 623.1h.01M327.0 617.4h.01M317.6 629.5h.01M319.9 628.3h.01M330.9 627.6h.01M323.4 619.8h.01M329.0 625.6h.01M317.0 630.6h.01M328.6 619.4h.01M330.9 616.7h.01M322.0 629.4h.01M311.7 622.7h.01M322.5 623.1h.01M323.7 616.2h.01M319.0 617.7h.01M315.7 626.3h.01M332.6 620.5h.01M319.0 617.3h.01M340.3 610.8h.01M323.1 621.3h.01M319.2 626.1h.01M330.5 623.7h.01M328.8 622.2h.01M305.4 619.5h.01M312.5 625.6h.01M341.1 611.2h.01M322.8 622.5h.01M316.5 626.0h.01M328.4 618.9h.01M322.9 618.4h.01M326.7 621.6h.01M332.7 624.6h.01M320.2 617.9h.01M338.9 623.1h.01M315.7 628.6h.01M319.6 619.2h.01M325.8 621.3h.01M319.2 615.4h.01M310.6 627.2h.01M327.6 613.3h.01M314.9 622.3h.01M308.5 620.7h.01M318.2 622.3h.01M319.0 628.8h.01M325.3 622.1h.01M323.6 617.9h.01M315.7 618.3h.01M318.4 622.6h.01M318.1 624.4h.01M324.2 623.5h.01M319.9 621.6h.01M322.4 618.1h.01M331.8 619.5h.01M314.1 621.8h.01M308.1 628.8h.01M321.6 620.4h.01M329.7 617.4h.01M325.6 620.4h.01M331.5 624.7h.01M338.9 625.2h.01M328.4 622.1h.01M328.2 609.7h.01M332.7 613.5h.01M317.1 621.6h.01M324.9 618.1h.01M334.6 620.6h.01M322.4 629.5h.01M320.2 622.0h.01M335.9 623.3h.01M337.0 618.1h.01M317.5 635.0h.01M326.3 623.4h.01M323.6 622.2h.01M318.4 615.1h.01M331.2 616.4h.01M325.0 628.2h.01M326.4 618.7h.01M322.5 623.2h.01M326.0 622.3h.01M334.0 620.3h.01M336.1 631.4h.01M331.6 620.7h.01M311.1 621.0h.01M299.3 629.8h.01M316.4 623.6h.01M313.6 623.6h.01M337.6 617.0h.01M326.8 622.4h.01M345.8 618.4h.01M324.1 616.8h.01M328.0 619.7h.01M333.7 620.6h.01M312.9 620.7h.01M328.3 617.2h.01M330.3 620.5h.01M302.2 628.4h.01M319.4 625.5h.01M322.8 626.0h.01M327.6 632.4h.01M317.4 615.2h.01M314.9 623.8h.01M325.8 614.9h.01M338.5 617.1h.01M332.1 621.7h.01M329.5 616.3h.01M321.0 611.4h.01M322.3 616.7h.01M327.3 621.7h.01M329.0 613.5h.01M308.1 623.8h.01M325.3 623.4h.01M310.1 624.6h.01M330.0 611.0h.01M350.4 614.1h.01M312.4 634.2h.01M316.4 620.7h.01M322.4 623.6h.01M316.5 626.6h.01M335.8 614.6h.01M308.3 625.6h.01M316.6 625.2h.01M319.4 618.0h.01M325.3 621.6h.01M330.6 613.6h.01M320.3 624.7h.01M310.7 617.5h.01M326.8 616.5h.01M322.0 626.0h.01M336.6 618.7h.01M317.8 623.0h.01M334.0 617.1h.01M313.2 614.9h.01M309.8 619.4h.01M312.8 625.0h.01M337.2 628.7h.01M318.1 621.4h.01M323.3 626.5h.01M330.8 617.1h.01M313.5 614.0h.01M329.3 619.9h.01M326.2 621.5h.01M310.9 624.4h.01M311.7 628.4h.01M323.0 619.0h.01M326.0 614.0h.01M322.9 624.0h.01M314.8 637.6h.01M328.7 617.7h.01M320.9 623.4h.01M318.2 619.6h.01M330.6 619.9h.01M338.4 616.8h.01M323.6 624.4h.01M344.0 616.4h.01M320.8 628.0h.01M323.0 618.8h.01M313.3 627.3h.01M337.7 611.8h.01M316.4 627.2h.01M315.5 634.2h.01M328.8 618.4h.01M316.7 622.4h.01M315.6 622.9h.01M315.3 622.4h.01M333.6 620.3h.01M337.1 625.8h.01M326.4 621.3h.01M325.4 622.2h.01M324.7 625.5h.01M320.1 632.3h.01M315.3 617.3h.01M324.1 616.4h.01M307.9 627.6h.01M305.3 627.2h.01M337.8 614.9h.01M318.5 624.1h.01M310.8 612.5h.01M329.6 617.8h.01M308.5 628.4h.01M319.7 630.9h.01M322.9 613.8h.01M327.4 617.9h.01M324.6 611.4h.01M311.1 619.1h.01M334.1 616.3h.01M333.4 619.1h.01M335.1 618.4h.01M343.0 624.3h.01M316.7 629.8h.01M330.8 614.7h.01M330.7 621.8h.01M316.5 622.3h.01M323.0 617.2h.01M314.0 626.6h.01M329.9 609.1h.01M315.6 616.9h.01M306.6 631.0h.01M331.6 614.9h.01M325.4 624.2h.01M316.8 618.1h.01M330.3 615.1h.01M320.5 623.9h.01M322.6 628.9h.01M306.2 627.8h.01M303.1 628.6h.01M323.4 619.8h.01M303.7 626.6h.01M325.3 617.8h.01M323.4 623.3h.01M328.2 614.7h.01M319.5 625.8h.01M323.7 612.6h.01M317.0 637.6h.01M320.7 621.5h.01M324.7 614.3h.01M327.2 622.7h.01M315.9 624.0h.01M328.2 629.3h.01M330.0 623.0h.01M314.4 623.3h.01M338.2 616.5h.01M314.6 618.1h.01M312.2 623.1h.01M314.7 628.3h.01M329.0 617.6h.01M326.9 618.6h.01M330.8 620.8h.01M317.0 626.9h.01M312.0 619.9h.01M340.3 628.6h.01M328.0 621.1h.01M304.7 630.4h.01M337.4 621.9h.01M341.7 616.5h.01M338.3 613.0h.01M323.9 621.7h.01M321.2 622.8h.01M317.6 623.6h.01M328.7 625.8h.01M311.0 629.1h.01M325.9 618.8h.01M307.0 630.7h.01M314.3 629.2h.01M345.0 622.9h.01M327.0 620.2h.01M317.5 632.2h.01M346.5 619.6h.01M342.0 612.8h.01M327.5 621.0h.01M328.9 627.8h.01M320.5 622.6h.01M323.1 622.1h.01M320.2 616.1h.01M316.6 631.0h.01M309.3 626.0h.01M312.2 621.6h.01M310.9 618.5h.01M333.5 618.5h.01M344.4 624.5h.01M318.0 617.9h.01M342.9 611.0h.01M325.7 619.9h.01M311.0 625.0h.01M330.7 611.4h.01M326.1 623.8h.01M322.7 623.0h.01M312.3 619.9h.01M326.0 634.2h.01M312.3 620.4h.01M327.9 624.2h.01M345.2 619.0h.01M311.0 627.9h.01M324.5 619.8h.01M313.3 631.2h.01M326.4 618.8h.01M328.1 615.9h.01M331.1 624.4h.01M323.8 616.8h.01M332.3 621.7h.01M328.5 623.4h.01M312.8 621.2h.01M324.3 614.8h.01M343.7 617.9h.01M315.0 622.0h.01M329.7 621.8h.01M329.0 624.2h.01M319.5 631.7h.01M320.0 626.3h.01M330.7 624.9h.01M331.0 619.2h.01M314.4 626.6h.01M334.1 610.2h.01M304.7 628.8h.01M320.8 622.7h.01M349.6 614.2h.01M317.7 623.4h.01M325.6 616.3h.01M339.1 616.8h.01M345.8 621.3h.01M319.2 619.2h.01M327.5 617.5h.01M327.1 623.0h.01M333.9 614.1h.01M325.3 622.6h.01M323.4 622.8h.01M332.2 625.1h.01M329.4 618.8h.01M333.0 608.9h.01M330.1 609.9h.01M324.3 610.6h.01M317.6 618.2h.01M315.6 621.4h.01M331.3 612.0h.01M323.5 619.5h.01M315.6 623.3h.01M324.5 624.5h.01M324.4 616.7h.01M333.9 614.0h.01M322.7 627.4h.01M333.0 618.6h.01M323.0 622.4h.01M333.1 617.0h.01M320.1 624.1h.01M316.8 617.8h.01M314.7 623.2h.01M329.2 622.9h.01M329.7 616.2h.01M339.0 618.6h.01M319.8 626.2h.01M332.4 608.0h.01M312.6 614.3h.01M322.2 622.8h.01M325.2 618.6h.01M319.5 617.0h.01M338.2 613.6h.01M322.6 627.2h.01M320.1 617.8h.01M326.2 625.6h.01M318.0 621.7h.01M327.4 623.0h.01M337.0 611.2h.01M330.4 617.0h.01M339.4 610.2h.01M326.3 624.3h.01M323.9 623.7h.01M333.2 626.5h.01M317.0 625.2h.01M312.8 629.4h.01M334.1 623.9h.01M327.2 628.0h.01M316.9 625.2h.01M336.5 617.0h.01M335.4 613.9h.01M324.8 623.0h.01M334.9 623.0h.01M312.4 633.8h.01M300.7 626.6h.01M332.0 612.5h.01M326.5 618.3h.01M307.4 630.9h.01M337.7 613.5h.01M326.4 626.8h.01M346.1 618.0h.01M302.2 625.5h.01M322.2 614.7h.01M326.3 610.9h.01M325.1 638.3h.01M305.0 630.0h.01M321.2 624.3h.01M335.5 610.1h.01M314.5 630.0h.01M319.9 621.3h.01M326.0 631.7h.01M324.3 619.8h.01M335.4 614.7h.01M314.0 624.5h.01M325.9 622.6h.01M331.3 628.9h.01M333.1 611.6h.01M315.2 616.6h.01M329.2 621.5h.01M323.5 616.1h.01M317.7 621.8h.01M331.4 619.3h.01M317.4 620.7h.01M308.8 618.4h.01M330.1 616.8h.01M336.7 625.4h.01M326.8 618.8h.01M330.8 623.4h.01M354.4 609.1h.01M343.1 610.0h.01M323.1 621.3h.01M329.3 623.5h.01M331.0 621.0h.01M355.7 617.1h.01M323.0 621.3h.01M348.4 612.8h.01M318.7 616.3h.01M359.8 614.8h.01M335.2 614.1h.01M340.0 620.8h.01M320.9 625.3h.01M342.8 608.2h.01M325.5 613.8h.01M343.5 611.4h.01M333.2 620.4h.01M317.4 625.0h.01M339.7 620.0h.01M340.9 613.2h.01M319.9 622.8h.01M334.7 628.3h.01M324.6 613.3h.01M331.9 618.8h.01M335.3 618.7h.01M332.5 615.7h.01M317.5 613.4h.01M320.1 627.5h.01M334.4 617.4h.01M313.8 629.9h.01M330.4 618.5h.01M329.1 613.7h.01M322.1 611.1h.01M334.8 618.0h.01M327.4 610.3h.01M337.0 609.0h.01M332.1 617.8h.01M330.1 612.6h.01M333.3 629.7h.01M305.5 609.8h.01M342.6 627.7h.01M325.1 617.9h.01M347.3 610.4h.01M346.7 626.2h.01M325.6 613.1h.01M320.5 614.2h.01M336.5 612.5h.01M337.6 617.0h.01M360.3 615.2h.01M331.7 616.3h.01M327.2 610.8h.01M320.9 620.8h.01M309.0 620.0h.01M320.5 624.2h.01M316.6 616.7h.01M317.3 614.7h.01M338.4 622.3h.01M343.5 616.6h.01M335.6 608.0h.01M337.6 625.8h.01M317.0 625.3h.01M324.1 617.5h.01M347.5 611.5h.01M355.9 606.6h.01M299.5 622.8h.01M351.3 622.4h.01M339.5 613.2h.01M330.5 623.5h.01M311.4 625.4h.01M338.6 621.2h.01M318.7 620.1h.01M341.2 621.6h.01M319.5 616.7h.01M342.4 615.4h.01M306.2 619.7h.01M342.3 607.0h.01M320.0 620.9h.01M326.4 620.8h.01M308.2 633.8h.01M313.0 633.8h.01M302.5 630.3h.01M330.5 619.7h.01M327.0 630.9h.01M345.8 613.0h.01M357.8 603.4h.01M320.3 622.2h.01M353.4 615.8h.01M322.8 619.9h.01M312.3 622.7h.01M336.3 618.7h.01M327.4 624.0h.01M346.7 614.8h.01M306.3 625.4h.01M335.4 612.6h.01M339.7 617.5h.01M326.4 621.0h.01M341.7 613.0h.01M321.3 615.5h.01M318.2 628.5h.01M348.3 608.8h.01M315.5 630.6h.01M340.7 620.0h.01M335.2 621.3h.01M310.9 615.8h.01M320.5 619.6h.01M362.8 607.7h.01M325.7 619.6h.01M342.3 610.4h.01M319.3 613.9h.01M322.0 617.2h.01M313.7 623.5h.01M345.7 606.2h.01M343.9 620.4h.01M324.8 612.8h.01M340.4 618.4h.01M329.7 615.4h.01M319.8 612.3h.01M310.8 626.4h.01M322.7 624.4h.01M314.8 610.2h.01M323.1 619.1h.01M323.5 620.5h.01M309.0 624.3h.01M344.6 615.9h.01M331.3 616.3h.01M323.6 620.1h.01M325.5 613.9h.01M327.8 614.3h.01M347.6 613.0h.01M321.8 622.2h.01M318.7 619.0h.01M312.9 619.5h.01M343.7 622.5h.01M324.3 618.4h.01M328.6 613.9h.01M333.5 616.6h.01M324.0 617.8h.01M346.1 614.0h.01M328.1 624.2h.01M319.7 626.2h.01M325.4 609.2h.01M345.1 617.1h.01M337.9 622.8h.01M318.9 617.7h.01M336.5 618.3h.01M350.4 626.5h.01M354.6 613.4h.01M314.0 623.4h.01M329.1 624.2h.01M335.9 609.8h.01M340.6 616.3h.01M324.2 621.9h.01M340.0 618.5h.01M343.6 615.0h.01M313.8 611.5h.01M332.1 608.7h.01M338.9 616.8h.01M330.9 619.3h.01M327.6 606.5h.01M309.4 616.3h.01M333.7 619.4h.01M335.7 621.9h.01M312.4 626.7h.01M321.1 622.0h.01M339.0 632.6h.01M337.2 613.5h.01M352.6 604.6h.01M335.6 612.5h.01M332.8 621.6h.01M354.6 609.6h.01M339.9 611.2h.01M324.9 621.4h.01M333.2 616.5h.01M318.4 622.1h.01M348.6 621.0h.01M327.1 617.4h.01M307.5 617.5h.01M333.8 625.1h.01M331.4 610.4h.01M337.1 616.2h.01M324.9 617.1h.01M329.3 615.4h.01M333.1 629.3h.01M327.2 623.4h.01M331.5 615.4h.01M327.8 616.1h.01M301.6 624.8h.01M334.2 621.0h.01M359.9 610.5h.01M322.4 617.9h.01M312.6 628.3h.01M311.4 618.2h.01M325.7 620.6h.01M356.5 609.5h.01M321.0 625.5h.01M333.3 615.2h.01M321.3 622.4h.01M336.9 618.0h.01M318.4 622.5h.01M339.7 616.1h.01M314.1 623.2h.01M330.8 614.6h.01M355.9 606.7h.01M317.7 619.4h.01M307.5 619.9h.01M334.4 625.1h.01M322.6 624.0h.01M346.0 626.1h.01M317.1 625.3h.01M327.2 622.2h.01M331.7 616.4h.01M336.3 612.6h.01M317.7 620.7h.01M339.8 618.1h.01M333.6 614.2h.01M323.8 622.0h.01M333.1 629.9h.01M334.4 621.5h.01M344.8 625.6h.01M329.5 618.7h.01M348.9 627.2h.01M326.8 613.8h.01M327.5 613.0h.01M336.1 605.5h.01M306.7 633.4h.01M316.3 630.7h.01M344.3 614.4h.01M316.3 619.5h.01M337.2 622.2h.01M336.8 613.0h.01M350.6 619.0h.01M311.6 633.0h.01M348.8 611.8h.01M335.2 628.3h.01M329.7 622.7h.01M317.7 625.2h.01M333.6 619.8h.01M333.9 616.2h.01M314.6 621.2h.01M345.1 607.8h.01M346.2 612.3h.01M323.0 623.9h.01M315.7 618.3h.01M315.1 623.6h.01M331.4 631.0h.01M332.9 617.3h.01M309.7 622.9h.01M319.1 616.8h.01M310.7 623.1h.01M330.5 620.3h.01M320.7 623.4h.01M333.7 610.7h.01M339.1 609.1h.01M345.2 609.9h.01M310.7 612.4h.01M305.3 613.1h.01M352.6 613.3h.01M347.6 611.2h.01M363.0 612.2h.01M348.0 617.0h.01M326.2 620.1h.01M327.3 614.1h.01M335.1 612.5h.01M324.7 622.2h.01M331.3 618.1h.01M338.5 620.7h.01M336.8 611.1h.01M308.7 627.1h.01M319.6 615.4h.01M342.3 624.7h.01M340.6 625.0h.01M321.9 614.6h.01M323.1 625.1h.01M322.5 624.2h.01M319.6 613.0h.01M311.1 615.6h.01M329.5 623.1h.01M318.1 627.9h.01M323.5 627.7h.01M329.3 615.8h.01M330.5 620.6h.01M307.9 628.6h.01M343.7 619.3h.01M315.2 619.2h.01M328.8 617.2h.01M343.3 612.5h.01M327.0 614.9h.01M316.2 614.1h.01M313.5 618.0h.01M321.9 613.9h.01M312.0 622.9h.01M339.4 614.8h.01M332.5 619.0h.01M325.8 607.5h.01M333.7 614.4h.01M338.0 616.4h.01M324.2 616.3h.01M331.2 622.7h.01M310.1 612.1h.01M312.0 630.7h.01M324.1 619.9h.01M326.6 621.2h.01M323.9 618.8h.01M329.5 613.8h.01M323.4 607.6h.01M359.8 613.1h.01M322.4 618.6h.01M326.0 623.2h.01M340.0 615.9h.01M315.1 608.9h.01M304.5 617.0h.01M318.4 620.3h.01M337.1 612.8h.01M330.2 614.8h.01M319.0 623.9h.01M353.8 614.1h.01M341.2 618.8h.01M316.7 627.7h.01M324.6 619.5h.01M333.3 621.8h.01M316.2 624.8h.01M334.5 618.3h.01M321.5 620.8h.01M318.0 620.4h.01M346.0 608.4h.01M327.5 631.4h.01M326.6 615.7h.01M336.6 608.1h.01M310.3 622.6h.01M338.2 610.6h.01M318.2 638.2h.01M324.3 624.8h.01M341.1 621.6h.01M326.6 622.2h.01M325.8 616.6h.01M340.3 613.3h.01M318.9 620.8h.01M341.5 619.0h.01M337.6 624.6h.01M333.9 624.5h.01M327.8 624.1h.01M310.0 625.4h.01M307.5 613.5h.01M346.6 622.7h.01M348.0 607.2h.01M321.7 614.6h.01M305.6 627.2h.01M315.6 614.1h.01M316.6 623.8h.01M310.9 636.0h.01M327.3 623.5h.01M318.7 615.2h.01M326.7 606.0h.01M337.0 609.6h.01M354.0 605.7h.01M310.5 621.2h.01M339.3 621.6h.01M334.6 623.7h.01M339.8 610.8h.01M324.5 619.0h.01M321.8 622.5h.01M337.6 618.4h.01M322.3 616.7h.01M325.9 626.0h.01M332.2 626.6h.01M353.6 617.1h.01M336.6 619.1h.01M317.8 623.6h.01M325.7 608.3h.01M334.2 617.8h.01M340.4 623.1h.01M325.7 613.7h.01M347.2 618.5h.01M320.4 628.9h.01M337.5 620.9h.01M350.1 615.3h.01M332.3 611.4h.01M329.5 625.4h.01M337.3 615.9h.01M315.9 637.5h.01M317.3 617.8h.01M338.4 613.2h.01M315.1 624.1h.01M312.6 624.1h.01M327.0 618.8h.01M322.0 623.9h.01M309.8 621.2h.01M332.5 622.5h.01M311.8 621.3h.01M321.6 623.4h.01M351.8 622.4h.01M332.9 613.1h.01M317.5 628.3h.01M321.9 630.3h.01M323.0 618.0h.01M322.0 618.4h.01M348.9 606.8h.01M314.1 621.8h.01M320.9 622.6h.01M341.6 605.9h.01M325.0 619.4h.01M304.4 623.4h.01M328.7 618.8h.01M319.5 624.8h.01M321.9 622.1h.01M334.4 623.1h.01M338.7 604.5h.01M325.5 619.7h.01M336.7 602.9h.01M302.2 629.4h.01M338.5 620.2h.01M324.6 606.5h.01M331.3 617.6h.01M337.5 614.3h.01M306.7 618.2h.01M321.4 625.0h.01M326.3 619.3h.01M342.1 620.9h.01M323.9 621.1h.01M361.5 617.8h.01M325.6 614.4h.01M335.4 615.9h.01M333.2 623.9h.01M334.2 614.8h.01M341.2 620.6h.01M323.0 607.1h.01M339.0 619.8h.01M355.0 608.2h.01M340.0 612.1h.01M330.7 612.1h.01M324.1 625.6h.01M318.5 614.2h.01M337.7 621.3h.01M331.6 626.0h.01M324.9 618.1h.01M338.2 611.7h.01M314.2 614.5h.01M342.5 623.0h.01M327.6 615.7h.01M327.6 624.8h.01M333.1 619.5h.01M337.4 626.9h.01M349.4 609.8h.01M335.2 623.1h.01M332.3 619.1h.01M318.2 619.8h.01M313.9 613.5h.01M313.7 615.9h.01M331.5 615.5h.01M342.3 621.1h.01M324.6 615.1h.01M340.4 613.8h.01M333.4 618.6h.01M329.5 617.2h.01M321.1 628.1h.01M333.4 621.3h.01M327.2 611.2h.01M315.2 615.5h.01M322.1 618.5h.01M305.3 624.2h.01M323.9 621.5h.01M316.6 619.5h.01M310.9 626.5h.01M354.3 614.2h.01M332.4 617.3h.01M337.2 618.6h.01M312.7 619.1h.01M323.6 621.4h.01M337.8 608.6h.01M326.4 614.1h.01M319.4 622.6h.01M313.3 618.5h.01M347.5 621.8h.01M301.3 626.9h.01M346.4 612.8h.01M335.0 622.0h.01M333.0 611.5h.01M340.8 614.4h.01M342.7 612.1h.01M325.5 626.0h.01M311.0 625.1h.01M325.2 612.4h.01M330.3 620.9h.01M298.8 621.4h.01M351.8 614.4h.01M340.1 613.5h.01M344.1 614.1h.01M341.4 626.5h.01M319.8 624.9h.01M341.9 616.3h.01M322.7 614.5h.01M326.3 620.9h.01M310.8 629.6h.01M320.5 623.9h.01M348.0 608.8h.01M346.3 620.9h.01M329.9 623.2h.01M321.3 624.2h.01M342.1 616.1h.01M330.7 620.4h.01M308.7 624.5h.01M324.8 627.1h.01M326.8 611.4h.01M320.3 619.8h.01M339.1 609.7h.01M319.8 616.0h.01M310.6 618.3h.01M333.1 608.5h.01M337.5 611.1h.01M331.6 608.6h.01M325.0 611.9h.01M342.4 622.6h.01M323.3 626.0h.01M314.2 626.6h.01M330.5 621.3h.01M316.2 626.7h.01M306.8 628.0h.01M336.9 622.6h.01M337.8 619.1h.01M308.5 624.8h.01M318.1 622.4h.01M336.7 610.5h.01M337.6 612.3h.01M321.0 620.1h.01M327.6 622.2h.01M318.2 621.9h.01M330.6 619.9h.01M317.8 632.1h.01M327.5 620.5h.01M342.6 617.3h.01M314.4 621.1h.01M337.3 607.3h.01M320.2 626.1h.01M328.8 624.4h.01M345.1 617.9h.01M355.7 608.6h.01M342.8 613.4h.01M333.3 613.8h.01M330.2 628.2h.01M298.9 629.2h.01M344.9 614.1h.01M346.4 618.1h.01M303.6 623.0h.01M345.8 620.9h.01M314.3 624.5h.01M337.8 615.3h.01M310.5 630.4h.01M331.1 610.1h.01M336.7 618.5h.01M343.3 620.9h.01M313.6 615.9h.01M325.8 627.4h.01M328.8 610.9h.01M337.3 615.3h.01M352.2 615.1h.01M357.0 610.4h.01M340.9 619.6h.01M346.5 625.7h.01M356.6 612.8h.01M358.8 614.7h.01M361.3 620.0h.01M338.2 616.3h.01M332.8 609.3h.01M349.4 614.7h.01M341.5 616.6h.01M346.1 617.5h.01M359.9 618.8h.01M335.5 618.7h.01M361.6 612.8h.01M362.2 619.2h.01M341.0 623.7h.01M353.6 614.0h.01M360.2 624.1h.01M361.6 611.4h.01M354.7 625.7h.01M342.6 612.9h.01M353.4 611.6h.01M355.0 608.8h.01M333.3 625.1h.01M346.7 616.9h.01M336.6 610.6h.01M353.4 617.7h.01M346.5 622.8h.01M358.3 610.1h.01M339.5 609.3h.01M353.9 617.1h.01M347.7 607.1h.01M348.4 620.0h.01M359.0 616.8h.01M354.0 619.7h.01M354.9 616.1h.01M332.0 617.8h.01M365.2 616.5h.01M356.1 613.4h.01M371.6 614.2h.01M367.1 615.3h.01M358.6 614.9h.01M341.7 625.2h.01M365.1 620.9h.01M360.6 620.7h.01M357.4 631.0h.01M336.5 617.7h.01M335.0 606.5h.01M356.1 619.0h.01M339.3 608.3h.01M342.6 619.7h.01M354.7 615.6h.01M386.9 611.4h.01M350.8 613.8h.01M335.9 613.6h.01M374.6 612.9h.01M338.1 616.5h.01M336.5 626.0h.01M375.4 614.3h.01M341.5 611.2h.01M344.6 617.1h.01M360.7 617.9h.01M354.8 610.2h.01M338.3 619.0h.01M357.4 610.9h.01M352.7 613.0h.01M379.0 619.3h.01M336.2 622.3h.01M354.4 616.8h.01M368.9 622.1h.01M352.6 618.4h.01M349.4 607.4h.01M347.3 608.1h.01M325.6 620.6h.01M349.3 612.9h.01M346.4 618.0h.01M360.3 612.9h.01M341.3 619.2h.01M335.9 615.0h.01M340.5 616.9h.01M360.2 612.0h.01M355.8 607.2h.01M341.2 623.3h.01M350.7 615.1h.01M349.6 608.2h.01M376.2 611.1h.01M354.1 619.1h.01M341.1 615.7h.01M357.6 608.9h.01M360.5 619.2h.01M380.3 621.9h.01M344.5 625.3h.01M366.8 615.0h.01M360.5 621.2h.01M335.0 619.7h.01M344.7 617.6h.01M366.0 618.8h.01M345.2 610.2h.01M361.9 621.0h.01M365.2 613.4h.01M342.8 613.5h.01M348.0 610.2h.01M360.4 616.3h.01M347.3 617.8h.01M337.8 608.3h.01M344.7 611.4h.01M348.1 620.4h.01M361.3 618.7h.01M350.1 619.9h.01M339.9 618.2h.01M351.3 617.4h.01M346.5 618.4h.01M353.9 616.0h.01M342.5 609.2h.01M368.9 608.3h.01M359.1 611.1h.01M372.2 608.4h.01M352.4 608.7h.01M376.0 609.2h.01M362.5 608.4h.01M346.3 620.4h.01M359.2 615.7h.01M349.2 613.8h.01M352.0 616.6h.01M354.0 621.2h.01M370.1 623.7h.01M370.2 623.9h.01M335.3 616.7h.01M375.8 615.3h.01M351.3 618.1h.01M354.6 618.2h.01M334.8 614.3h.01M343.1 614.5h.01M362.5 616.4h.01M371.3 603.9h.01M345.1 607.2h.01M329.6 612.9h.01M373.9 611.6h.01M348.1 604.8h.01M366.9 631.2h.01M350.2 611.2h.01M345.4 626.4h.01M350.2 614.8h.01M325.0 624.3h.01M352.8 611.7h.01M353.4 608.5h.01M379.2 611.4h.01M352.4 612.1h.01M385.5 606.6h.01M365.9 620.3h.01M371.0 630.7h.01M348.2 611.9h.01M369.6 624.0h.01M354.0 608.9h.01M353.3 617.9h.01M351.7 616.4h.01M361.5 616.1h.01M345.4 625.9h.01M347.8 611.3h.01M358.2 620.6h.01M336.2 617.2h.01M354.6 623.4h.01M333.7 615.5h.01M364.7 624.6h.01M353.7 617.8h.01M351.6 610.6h.01M380.6 612.2h.01M359.9 608.9h.01M347.5 619.2h.01M334.9 614.4h.01M376.1 613.4h.01M335.3 619.2h.01M343.2 607.4h.01M365.2 615.0h.01M351.3 622.9h.01M352.9 620.1h.01M378.8 603.0h.01M367.2 610.5h.01M372.6 608.6h.01M336.7 622.4h.01M347.8 611.9h.01M349.1 602.8h.01M359.1 612.2h.01M353.0 614.5h.01M346.6 627.5h.01M366.6 617.6h.01M362.5 618.7h.01M364.1 609.3h.01M366.1 614.0h.01M352.6 605.3h.01M356.0 612.9h.01M353.7 612.6h.01M343.3 608.8h.01M361.1 615.3h.01M340.7 609.3h.01M359.1 623.0h.01M360.4 614.1h.01M351.6 609.6h.01M366.4 605.9h.01M365.2 609.7h.01M346.9 615.8h.01M376.6 624.5h.01M363.7 614.5h.01M341.7 614.8h.01M361.0 611.6h.01M336.0 617.3h.01M380.1 618.8h.01M321.8 624.3h.01M333.2 616.8h.01M357.2 623.4h.01M364.0 609.7h.01M332.4 616.5h.01M334.8 613.0h.01M362.5 618.9h.01M356.9 607.3h.01M378.5 611.2h.01M339.9 609.1h.01M361.3 615.8h.01M359.1 621.1h.01M325.1 623.8h.01M364.2 625.4h.01M319.3 617.0h.01M394.0 619.8h.01M313.4 619.3h.01M362.2 618.0h.01M327.0 618.3h.01M364.6 619.4h.01M328.0 611.8h.01M367.6 627.9h.01M369.9 612.3h.01M368.6 622.2h.01M327.1 610.6h.01M358.0 620.1h.01M339.3 619.3h.01M355.8 613.7h.01M375.6 623.1h.01M368.1 618.0h.01M343.9 623.5h.01M332.3 612.4h.01M381.4 612.8h.01M361.6 613.3h.01M344.2 627.4h.01M363.5 615.0h.01M344.7 609.1h.01M332.4 620.8h.01M350.9 621.7h.01M365.7 605.3h.01M371.8 607.0h.01M366.7 622.7h.01M355.3 620.5h.01M359.2 604.8h.01M342.7 614.1h.01M352.7 610.9h.01M324.7 617.4h.01M368.0 621.5h.01M372.2 613.2h.01M360.8 621.9h.01M344.7 615.2h.01M356.9 609.8h.01M353.7 604.6h.01M351.7 615.8h.01M374.3 621.4h.01M377.4 617.9h.01M346.5 606.4h.01M364.4 611.3h.01M353.1 614.9h.01M342.2 615.6h.01M366.6 611.6h.01M365.5 612.6h.01M321.6 621.7h.01M374.4 617.5h.01M369.1 616.7h.01M354.3 608.6h.01M358.0 615.0h.01M343.1 614.5h.01M353.3 624.8h.01M375.2 608.7h.01M360.2 627.7h.01M365.4 604.8h.01M356.8 608.9h.01M346.5 620.3h.01M366.0 612.7h.01M378.4 617.4h.01M336.8 610.4h.01M349.1 615.1h.01M332.0 622.7h.01M346.8 614.8h.01M385.4 617.6h.01M367.0 624.5h.01M357.7 605.9h.01M355.9 608.6h.01M352.0 621.0h.01M351.8 625.2h.01M353.2 612.5h.01M363.0 603.8h.01M360.0 611.6h.01M355.7 614.2h.01M388.0 605.2h.01M359.2 620.2h.01M343.4 614.2h.01M342.0 614.3h.01M346.4 622.3h.01M361.3 613.7h.01M375.1 609.8h.01M348.9 621.9h.01M371.1 621.7h.01M375.8 617.1h.01M369.1 617.5h.01M346.7 622.0h.01M359.5 616.9h.01M350.9 620.8h.01M338.9 615.3h.01M369.5 609.6h.01M376.6 620.3h.01M353.4 613.7h.01M361.5 615.6h.01M336.6 616.0h.01M341.9 610.2h.01M327.5 613.5h.01M361.5 610.3h.01M374.7 614.9h.01M326.3 618.6h.01M345.1 604.1h.01M345.2 607.6h.01M346.2 612.3h.01M379.5 614.4h.01M333.1 613.3h.01M355.5 616.6h.01M352.4 614.6h.01M336.7 616.0h.01M350.9 607.2h.01M351.0 630.8h.01M374.7 613.4h.01M343.6 614.9h.01M350.8 618.9h.01M377.0 613.5h.01M356.1 615.1h.01M347.7 622.7h.01M338.5 610.3h.01M347.7 612.8h.01M348.2 616.1h.01M333.6 607.7h.01M352.3 624.0h.01M360.3 607.2h.01M352.2 619.6h.01M346.5 612.8h.01M344.6 620.5h.01M345.4 612.0h.01M357.9 614.8h.01M364.8 630.9h.01M347.6 617.8h.01M337.2 619.2h.01M350.9 619.5h.01M338.1 620.4h.01M345.5 623.1h.01M358.5 608.0h.01M337.6 622.1h.01M346.0 631.9h.01M360.2 619.4h.01M368.6 621.2h.01M369.4 623.4h.01M367.9 611.1h.01M338.8 610.1h.01M328.5 615.4h.01M359.0 615.3h.01M342.7 618.3h.01M361.6 614.9h.01M343.4 610.4h.01M360.2 619.2h.01M357.7 611.4h.01M346.7 610.3h.01M342.7 618.8h.01M351.3 624.6h.01M349.4 617.7h.01M363.8 609.6h.01M353.4 622.0h.01M335.6 619.3h.01M349.5 626.1h.01M355.4 611.8h.01M354.6 609.7h.01M349.7 613.3h.01M361.9 616.7h.01M329.0 619.3h.01M330.6 610.6h.01M340.8 609.8h.01M363.6 618.2h.01M301.3 625.9h.01M338.1 612.0h.01M351.0 630.9h.01M328.9 622.2h.01M357.0 618.5h.01M365.7 620.1h.01M357.9 605.3h.01M331.9 624.5h.01M336.6 622.4h.01M368.0 614.5h.01M322.0 625.9h.01M343.7 618.0h.01M342.8 614.1h.01M363.6 624.7h.01M341.7 624.7h.01M366.3 615.4h.01M341.4 610.0h.01M365.3 614.1h.01M352.1 613.0h.01M355.2 608.9h.01M352.4 626.5h.01M359.1 621.7h.01M356.1 616.0h.01M337.7 617.3h.01M353.2 607.0h.01M381.4 607.2h.01M367.1 617.9h.01M371.6 622.0h.01M362.5 618.2h.01M340.3 607.8h.01M359.4 633.2h.01M329.3 607.9h.01M355.7 611.8h.01M352.6 615.3h.01M326.8 619.4h.01M359.3 618.2h.01M357.2 607.9h.01M334.6 618.0h.01M382.8 618.2h.01M353.1 617.7h.01M367.9 613.6h.01M341.7 611.9h.01M353.8 621.7h.01M370.3 622.1h.01M374.7 618.6h.01M316.2 624.2h.01M350.6 622.5h.01M348.9 621.8h.01M371.6 619.0h.01M346.4 610.6h.01M334.8 611.3h.01M348.1 612.6h.01M347.1 618.6h.01M368.9 616.9h.01M350.2 613.0h.01M348.0 617.8h.01M342.9 619.8h.01M380.0 618.4h.01M366.9 610.0h.01M329.5 620.0h.01M347.2 612.3h.01M350.2 619.9h.01M362.0 617.2h.01M328.2 613.9h.01M370.9 611.9h.01M352.5 622.7h.01M376.8 614.4h.01M364.4 622.9h.01M337.7 613.2h.01M340.8 617.8h.01M372.8 618.2h.01M356.9 615.1h.01M352.9 619.0h.01M343.4 614.2h.01M332.9 613.2h.01M341.7 614.9h.01M365.2 610.0h.01M354.0 608.1h.01M353.8 605.9h.01M340.9 618.2h.01M324.0 606.5h.01M345.4 619.2h.01M359.3 613.6h.01M349.2 617.7h.01M351.2 627.7h.01M380.0 615.6h.01M361.7 615.4h.01M385.8 610.2h.01M361.1 612.1h.01M336.7 610.4h.01M339.9 614.2h.01M331.4 619.4h.01M350.1 616.4h.01M328.1 607.0h.01M372.9 610.6h.01M336.0 620.9h.01M346.1 624.1h.01M334.9 612.3h.01M334.6 619.3h.01M343.2 609.6h.01M361.3 634.2h.01M328.8 622.7h.01M347.1 609.6h.01M352.9 628.6h.01M362.7 606.5h.01M352.1 622.2h.01M348.8 606.2h.01M352.2 608.2h.01M342.8 606.6h.01M365.0 626.2h.01M353.3 616.5h.01M357.2 619.1h.01M348.2 606.8h.01M333.7 616.9h.01M342.2 614.0h.01M358.9 615.2h.01M341.9 625.7h.01M348.0 610.2h.01M347.9 623.1h.01M360.4 613.3h.01M358.5 615.0h.01M341.1 614.4h.01M355.4 608.9h.01M369.5 626.1h.01M371.5 620.4h.01M354.8 612.6h.01M366.9 612.2h.01M338.1 628.0h.01M350.3 607.8h.01M343.8 616.2h.01M370.0 607.9h.01M376.5 615.0h.01M365.8 611.9h.01M350.5 618.7h.01M341.2 616.2h.01M360.4 613.9h.01M336.8 622.8h.01M331.2 619.1h.01M354.9 613.4h.01M356.4 612.9h.01M325.6 623.0h.01M344.3 614.6h.01M365.4 604.8h.01M349.6 615.5h.01M355.5 623.4h.01M357.7 620.3h.01M343.4 622.0h.01M353.6 623.3h.01M359.5 606.4h.01M355.2 617.5h.01M353.5 620.1h.01M366.8 622.9h.01M366.2 604.0h.01M349.1 609.3h.01M329.2 614.3h.01M350.9 622.5h.01M339.8 605.5h.01M357.2 609.2h.01M356.3 608.7h.01M362.8 611.4h.01M339.8 629.2h.01M362.4 607.7h.01M372.6 611.0h.01M334.7 614.6h.01M355.5 621.0h.01M356.9 613.7h.01M360.5 612.9h.01M349.5 618.8h.01M366.9 614.8h.01M365.6 625.8h.01M362.4 608.1h.01M347.5 619.4h.01M340.2 615.1h.01M366.5 622.2h.01M381.8 603.3h.01M383.2 618.5h.01M393.9 620.2h.01M362.1 618.4h.01M359.8 625.7h.01M370.3 611.8h.01M395.5 619.2h.01M400.4 615.8h.01M375.1 617.1h.01M382.9 618.1h.01M401.8 614.3h.01M387.2 613.6h.01M402.0 610.0h.01M377.1 618.3h.01M358.4 613.6h.01M381.6 613.5h.01M374.6 623.0h.01M392.8 617.8h.01M400.5 616.4h.01M386.0 623.1h.01M397.0 611.6h.01M377.7 622.1h.01M382.0 607.8h.01M386.3 620.1h.01M387.3 617.2h.01M366.2 619.8h.01M365.3 610.8h.01M389.4 612.9h.01M380.6 619.8h.01M394.7 624.3h.01M357.9 614.5h.01M386.1 604.1h.01M392.0 608.0h.01M383.9 622.9h.01M398.3 616.4h.01M393.7 624.3h.01M399.6 609.8h.01M374.2 613.5h.01M385.1 605.9h.01M372.3 610.9h.01M365.1 608.1h.01M388.3 616.6h.01M371.1 616.6h.01M395.6 605.9h.01M394.6 616.1h.01M384.1 620.9h.01M354.4 609.7h.01M373.7 625.1h.01M391.2 611.5h.01M401.1 614.8h.01M387.7 620.4h.01M381.0 621.0h.01M387.5 611.6h.01M376.4 610.7h.01M386.2 621.3h.01M385.7 618.7h.01M362.3 606.0h.01M398.3 610.9h.01M395.6 614.7h.01M370.8 615.0h.01M385.9 605.9h.01M360.7 619.0h.01M373.0 613.3h.01M363.9 618.2h.01M369.2 604.1h.01M375.8 611.4h.01M360.7 604.6h.01M379.4 608.1h.01M389.5 604.4h.01M388.2 608.5h.01M378.5 620.8h.01M368.8 613.1h.01M379.4 611.6h.01M380.1 618.7h.01M413.9 624.8h.01M390.4 615.3h.01M365.4 610.0h.01M369.6 616.2h.01M390.5 618.5h.01M398.1 607.8h.01M386.1 618.0h.01M387.9 608.8h.01M372.4 631.1h.01M379.5 617.1h.01M381.7 624.7h.01M376.6 616.7h.01M402.6 616.9h.01M359.0 613.6h.01M389.2 618.6h.01M372.1 614.4h.01M365.8 608.8h.01M391.3 622.5h.01M379.7 614.7h.01M378.4 617.7h.01M386.2 615.3h.01M402.3 613.7h.01M362.1 626.8h.01M366.4 609.3h.01M381.3 613.6h.01M386.4 619.1h.01M387.7 621.6h.01M388.5 612.5h.01M384.5 614.2h.01M373.9 617.3h.01M390.5 614.3h.01M375.9 618.6h.01M400.7 628.2h.01M379.9 627.3h.01M394.3 615.1h.01M366.1 619.1h.01M377.2 618.3h.01M376.3 622.1h.01M382.8 610.7h.01M387.2 610.4h.01M382.7 614.2h.01M373.5 609.1h.01M365.4 606.1h.01M388.0 619.1h.01M365.0 612.6h.01M379.0 621.0h.01M353.5 611.9h.01M390.5 616.0h.01M393.2 618.5h.01M389.8 614.3h.01M363.9 612.1h.01M371.6 612.7h.01M394.4 621.1h.01M392.2 609.2h.01M378.3 615.2h.01M388.4 626.0h.01M390.9 616.2h.01M357.0 613.6h.01M389.6 613.9h.01M377.3 613.3h.01M406.3 619.9h.01M390.5 620.7h.01M384.9 607.1h.01M384.4 614.4h.01M383.4 621.1h.01M370.7 620.3h.01M373.0 613.5h.01M362.0 614.2h.01M388.7 616.4h.01M380.5 614.8h.01M387.0 613.4h.01M400.1 611.6h.01M390.7 612.0h.01M382.4 611.0h.01M371.9 620.1h.01M368.2 620.4h.01M370.3 608.7h.01M403.9 612.1h.01M377.8 624.6h.01M373.2 611.2h.01M367.8 620.6h.01M394.6 618.2h.01M393.1 613.0h.01M375.1 606.2h.01M378.7 614.8h.01M382.0 618.1h.01M356.4 604.9h.01M401.8 618.0h.01M390.3 624.7h.01M378.6 614.4h.01M367.6 612.8h.01M397.7 615.1h.01M375.1 614.6h.01M376.1 620.4h.01M394.6 616.1h.01M406.5 615.3h.01M379.8 615.8h.01M390.7 612.0h.01M361.4 612.0h.01M383.3 615.3h.01M373.7 614.2h.01M399.7 624.0h.01M359.9 611.9h.01M385.3 621.6h.01M387.2 618.7h.01M367.8 609.1h.01M403.6 620.0h.01M384.4 608.7h.01M395.7 621.0h.01M370.4 612.9h.01M385.7 610.9h.01M388.2 616.4h.01M379.6 625.7h.01M383.4 614.1h.01M402.4 616.8h.01M384.4 612.5h.01M405.8 623.9h.01M364.0 619.7h.01M381.8 612.6h.01M375.3 610.8h.01M391.0 619.1h.01M381.1 620.5h.01M376.2 621.8h.01M356.3 605.7h.01M382.9 613.0h.01M376.7 623.4h.01M373.1 614.8h.01M366.8 612.2h.01M387.0 616.6h.01M366.7 607.4h.01M373.3 608.4h.01M395.3 619.6h.01M384.4 612.1h.01M373.2 609.4h.01M391.5 616.7h.01M369.6 620.6h.01M385.8 613.3h.01M375.9 614.2h.01M383.4 617.1h.01M383.3 614.9h.01M371.8 612.1h.01M374.6 616.2h.01M360.8 614.7h.01M378.5 615.0h.01M374.6 621.4h.01M381.0 616.2h.01M398.5 628.7h.01M395.7 603.5h.01M357.7 606.1h.01M374.7 619.4h.01M395.9 623.7h.01M375.8 615.1h.01M385.6 616.2h.01M379.5 616.3h.01M397.8 614.1h.01M391.6 614.0h.01M373.4 608.0h.01M366.1 631.3h.01M384.8 618.0h.01M365.0 626.2h.01M389.9 608.9h.01M368.4 618.9h.01M399.5 620.0h.01M387.5 618.4h.01M372.5 615.2h.01M390.7 607.8h.01M353.2 613.9h.01M380.1 619.2h.01M360.2 616.0h.01M389.3 621.0h.01M377.4 617.0h.01M367.9 607.1h.01M367.4 618.1h.01M384.4 607.8h.01M383.0 625.1h.01M379.0 625.9h.01M399.5 615.8h.01M370.7 619.3h.01M379.3 618.1h.01M375.9 612.7h.01M403.3 608.6h.01M378.7 607.1h.01M366.1 621.4h.01M394.6 616.4h.01M398.4 610.2h.01M399.0 623.6h.01M369.8 607.6h.01M385.5 605.8h.01M382.9 613.5h.01M385.4 611.6h.01M392.0 618.4h.01M373.5 611.8h.01M374.8 613.5h.01M379.4 609.9h.01M381.9 621.5h.01M351.2 614.3h.01M382.6 622.5h.01M396.6 624.3h.01M389.4 610.8h.01M369.2 621.5h.01M390.3 611.9h.01M370.1 618.6h.01M370.5 606.1h.01M369.3 608.0h.01M363.3 620.2h.01M386.8 621.0h.01M377.9 616.2h.01M375.4 619.4h.01M389.4 615.8h.01M364.4 610.5h.01M382.8 616.6h.01M391.5 611.2h.01M355.9 622.4h.01M382.5 622.9h.01M391.0 618.3h.01M391.6 602.4h.01M343.8 616.2h.01M380.2 609.7h.01M372.2 612.2h.01M384.6 613.8h.01M370.3 619.9h.01M374.2 615.7h.01M393.5 621.9h.01M362.8 629.7h.01M391.6 614.3h.01M365.4 617.7h.01M392.0 613.8h.01M382.2 628.0h.01M396.5 627.3h.01M378.7 615.6h.01M391.3 616.9h.01M391.8 615.2h.01M366.6 618.3h.01M366.2 615.7h.01M400.0 616.3h.01M363.1 613.8h.01M386.0 611.8h.01M380.0 609.8h.01M378.8 620.0h.01M367.4 614.0h.01M377.2 613.3h.01M398.0 618.1h.01M368.6 625.2h.01M392.3 616.0h.01M371.2 618.2h.01M375.3 606.7h.01M396.7 621.6h.01M396.0 606.6h.01M396.0 613.7h.01M382.3 622.1h.01M387.2 612.1h.01M389.9 617.3h.01M377.4 610.8h.01M395.3 619.1h.01M373.7 612.3h.01M380.0 614.7h.01M387.6 616.4h.01M397.2 615.5h.01M388.0 617.1h.01M391.4 624.0h.01M381.7 619.9h.01M390.1 615.0h.01M392.5 616.8h.01M377.8 617.9h.01M375.6 621.4h.01M372.6 614.4h.01M379.7 618.3h.01M381.7 617.2h.01M393.9 617.7h.01M372.1 613.2h.01M387.8 620.6h.01M403.3 619.2h.01M371.5 622.8h.01M392.6 613.7h.01M371.5 612.9h.01M383.2 617.0h.01M390.1 611.3h.01M382.7 617.6h.01M390.1 619.9h.01M388.1 613.0h.01M383.9 616.3h.01M368.7 623.4h.01M379.6 618.8h.01M380.0 614.5h.01M401.6 624.3h.01M386.6 616.7h.01M385.1 611.1h.01M388.4 618.0h.01M391.9 613.6h.01M398.6 609.8h.01M372.1 614.8h.01M372.7 612.9h.01M361.3 619.8h.01M373.3 620.7h.01M385.8 619.5h.01M398.2 617.3h.01M383.5 618.1h.01M379.9 611.7h.01M407.6 618.0h.01M369.7 618.8h.01M404.1 608.4h.01M371.0 615.6h.01M353.8 612.3h.01M377.6 618.2h.01M391.3 618.1h.01M366.3 611.0h.01M390.6 611.3h.01M370.0 618.3h.01M396.5 607.3h.01M378.1 616.3h.01M382.6 613.4h.01M394.5 608.1h.01M372.2 620.1h.01M389.5 609.2h.01M395.4 611.3h.01M373.2 611.5h.01M370.5 616.2h.01M381.5 626.4h.01M373.9 611.6h.01M406.9 611.3h.01M363.0 616.0h.01M384.6 621.8h.01M400.3 614.7h.01M385.1 606.0h.01M376.1 617.1h.01M370.8 606.2h.01M379.9 620.0h.01M401.0 628.2h.01M382.0 614.0h.01M382.1 610.8h.01M374.0 615.2h.01M380.8 620.3h.01M386.2 620.6h.01M384.8 619.0h.01M363.9 621.8h.01M389.7 606.6h.01M375.6 617.4h.01M381.5 613.3h.01M371.2 611.4h.01M380.5 610.8h.01M377.2 611.4h.01M374.2 611.0h.01M394.2 618.9h.01M364.5 612.4h.01M374.1 614.6h.01M356.1 628.1h.01M382.7 622.0h.01M372.8 614.5h.01M370.3 618.7h.01M369.7 618.8h.01M362.3 607.1h.01M402.9 625.3h.01M382.9 608.9h.01M384.4 621.2h.01M377.9 615.4h.01M375.7 617.6h.01M381.1 615.6h.01M389.6 608.5h.01M376.5 611.1h.01M380.4 613.9h.01M385.3 634.2h.01M381.8 621.0h.01M381.0 623.8h.01M394.5 613.0h.01M371.2 615.5h.01M375.8 612.7h.01M380.9 616.9h.01M359.5 620.6h.01M393.7 618.3h.01M397.1 611.6h.01M376.1 605.3h.01M389.9 619.2h.01M387.7 619.5h.01M381.1 625.2h.01M381.0 615.8h.01" stroke="#111" stroke-width="0.8" stroke-linecap="square" fill="none"/>
<text class="r" x="294.8" y="658.5" font-size="8.3" text-anchor="middle" fill="#111" style="stroke:#111;stroke-width:0.15px">10<tspan dy="-3.2" font-size="6">0</tspan></text>
<text class="r" x="326.9" y="658.5" font-size="8.3" text-anchor="middle" fill="#111" style="stroke:#111;stroke-width:0.15px">10<tspan dy="-3.2" font-size="6">1</tspan></text>
<text class="r" x="359.0" y="658.5" font-size="8.3" text-anchor="middle" fill="#111" style="stroke:#111;stroke-width:0.15px">10<tspan dy="-3.2" font-size="6">2</tspan></text>
<text class="r" x="391.1" y="658.5" font-size="8.3" text-anchor="middle" fill="#111" style="stroke:#111;stroke-width:0.15px">10<tspan dy="-3.2" font-size="6">3</tspan></text>
<text class="r" x="423.2" y="658.5" font-size="8.3" text-anchor="middle" fill="#111" style="stroke:#111;stroke-width:0.15px">10<tspan dy="-3.2" font-size="6">4</tspan></text>
<text class="r" transform="translate(292.0,523.1) rotate(-90)" font-size="8.3" text-anchor="middle" fill="#111" style="stroke:#111;stroke-width:0.15px">1024</text>
<text class="r" transform="translate(291.8,647.1) rotate(-90)" font-size="8.3" text-anchor="middle" fill="#111" style="stroke:#111;stroke-width:0.2px">0</text>
<line x1="133.80" y1="529.00" x2="133.80" y2="609.00" stroke="#000" stroke-width="1.2"/>
<path d="M133.8 523.4 L129.9 530.9 L137.7 530.9 Z" fill="#000"/>
<text transform="translate(138.1,632.9) rotate(-90)" font-size="12.3" text-anchor="middle">SSC</text>
<text x="152.70" y="671.60" font-size="12" text-anchor="start" >IFN<tspan class="r" font-family="Liberation Serif, serif" font-size="12" dy="0.6" style="stroke:#000;stroke-width:0.3px">γ</tspan><tspan dy="-0.6">-FITC</tspan></text>
<line x1="221.60" y1="670.70" x2="271.00" y2="670.70" stroke="#000" stroke-width="1.2"/>
<path d="M277.2 670.7 L270.2 667.1 L270.2 674.3 Z" fill="#000"/>
</svg></body></html>
